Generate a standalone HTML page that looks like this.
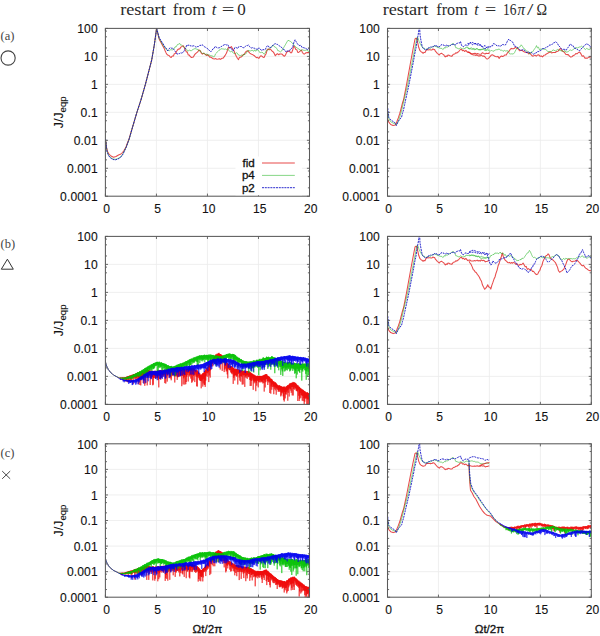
<!DOCTYPE html>
<html><head><meta charset="utf-8"><style>
html,body{margin:0;padding:0;background:#fff;width:600px;height:636px;overflow:hidden;}
svg{display:block;}
</style></head><body>
<svg width="600" height="636" viewBox="0 0 600 636">
<rect width="600" height="636" fill="#fff"/>
<defs>
<clipPath id="cL1"><rect x="105.4" y="27.4" width="204.1" height="168.8"/></clipPath>
<clipPath id="cL2"><rect x="105.4" y="235.4" width="204.1" height="169.0"/></clipPath>
<clipPath id="cL3"><rect x="105.4" y="442.8" width="204.1" height="154.4"/></clipPath>
<clipPath id="cR1"><rect x="387.5" y="27.4" width="203.8" height="168.8"/></clipPath>
<clipPath id="cR2"><rect x="387.5" y="235.4" width="203.8" height="169.0"/></clipPath>
<clipPath id="cR3"><rect x="387.5" y="442.8" width="203.8" height="154.4"/></clipPath>
</defs>
<g stroke="#ebebeb" stroke-width="0.8" fill="none"><line x1="105.4" y1="56.38" x2="309.5" y2="56.38"/><line x1="105.4" y1="84.35" x2="309.5" y2="84.35"/><line x1="105.4" y1="112.32" x2="309.5" y2="112.32"/><line x1="105.4" y1="140.30" x2="309.5" y2="140.30"/><line x1="105.4" y1="168.28" x2="309.5" y2="168.28"/><line x1="156.43" y1="28.4" x2="156.43" y2="196.2"/><line x1="207.45" y1="28.4" x2="207.45" y2="196.2"/><line x1="258.48" y1="28.4" x2="258.48" y2="196.2"/></g>
<g stroke="#ebebeb" stroke-width="0.8" fill="none"><line x1="105.4" y1="264.39" x2="309.5" y2="264.39"/><line x1="105.4" y1="292.38" x2="309.5" y2="292.38"/><line x1="105.4" y1="320.38" x2="309.5" y2="320.38"/><line x1="105.4" y1="348.37" x2="309.5" y2="348.37"/><line x1="105.4" y1="376.36" x2="309.5" y2="376.36"/><line x1="156.43" y1="236.4" x2="156.43" y2="404.4"/><line x1="207.45" y1="236.4" x2="207.45" y2="404.4"/><line x1="258.48" y1="236.4" x2="258.48" y2="404.4"/></g>
<g stroke="#ebebeb" stroke-width="0.8" fill="none"><line x1="105.4" y1="469.38" x2="309.5" y2="469.38"/><line x1="105.4" y1="494.95" x2="309.5" y2="494.95"/><line x1="105.4" y1="520.52" x2="309.5" y2="520.52"/><line x1="105.4" y1="546.10" x2="309.5" y2="546.10"/><line x1="105.4" y1="571.67" x2="309.5" y2="571.67"/><line x1="156.43" y1="443.8" x2="156.43" y2="597.2"/><line x1="207.45" y1="443.8" x2="207.45" y2="597.2"/><line x1="258.48" y1="443.8" x2="258.48" y2="597.2"/></g>
<g stroke="#ebebeb" stroke-width="0.8" fill="none"><line x1="387.5" y1="56.38" x2="591.3" y2="56.38"/><line x1="387.5" y1="84.35" x2="591.3" y2="84.35"/><line x1="387.5" y1="112.32" x2="591.3" y2="112.32"/><line x1="387.5" y1="140.30" x2="591.3" y2="140.30"/><line x1="387.5" y1="168.28" x2="591.3" y2="168.28"/><line x1="438.45" y1="28.4" x2="438.45" y2="196.2"/><line x1="489.40" y1="28.4" x2="489.40" y2="196.2"/><line x1="540.35" y1="28.4" x2="540.35" y2="196.2"/></g>
<g stroke="#ebebeb" stroke-width="0.8" fill="none"><line x1="387.5" y1="264.39" x2="591.3" y2="264.39"/><line x1="387.5" y1="292.38" x2="591.3" y2="292.38"/><line x1="387.5" y1="320.38" x2="591.3" y2="320.38"/><line x1="387.5" y1="348.37" x2="591.3" y2="348.37"/><line x1="387.5" y1="376.36" x2="591.3" y2="376.36"/><line x1="438.45" y1="236.4" x2="438.45" y2="404.4"/><line x1="489.40" y1="236.4" x2="489.40" y2="404.4"/><line x1="540.35" y1="236.4" x2="540.35" y2="404.4"/></g>
<g stroke="#ebebeb" stroke-width="0.8" fill="none"><line x1="387.5" y1="469.38" x2="591.3" y2="469.38"/><line x1="387.5" y1="494.95" x2="591.3" y2="494.95"/><line x1="387.5" y1="520.52" x2="591.3" y2="520.52"/><line x1="387.5" y1="546.10" x2="591.3" y2="546.10"/><line x1="387.5" y1="571.67" x2="591.3" y2="571.67"/><line x1="438.45" y1="443.8" x2="438.45" y2="597.2"/><line x1="489.40" y1="443.8" x2="489.40" y2="597.2"/><line x1="540.35" y1="443.8" x2="540.35" y2="597.2"/></g>
<polyline fill="none" stroke-linejoin="round" stroke="#e01818" stroke-opacity="0.78" stroke-width="1.05" clip-path="url(#cL1)" points="105.6,140.5 106.0,142.5 106.5,147.5 107.5,151.5 109.0,154.0 111.0,156.0 113.5,157.3 116.0,156.5 118.5,155.0 121.0,154.0 122.5,152.5 124.0,150.5 126.0,147.0 127.2,143.5 128.6,140.3 132.0,129.0 136.9,112.3 140.9,100.1 145.4,84.4 151.7,60.0 154.3,45.0 156.5,28.6 159.2,39.2 164.2,48.4 165.1,50.7 166.1,52.9 167.0,54.4 168.1,55.3 169.1,55.5 170.2,57.0 171.2,57.4 172.3,56.0 173.4,56.1 174.3,53.7 175.3,53.6 176.2,52.0 177.4,50.0 178.6,49.0 179.7,48.9 180.9,47.1 182.1,46.4 183.3,45.7 184.3,47.7 185.4,50.0 186.4,52.0 187.3,52.1 188.2,54.9 189.3,55.1 190.4,56.7 191.4,57.5 192.5,57.2 193.4,57.1 194.4,55.1 195.3,53.9 196.5,52.9 197.7,51.9 198.9,49.9 200.0,50.4 201.2,52.8 202.4,54.1 203.5,53.2 204.5,53.9 205.6,54.6 206.7,55.5 207.7,54.6 208.8,55.9 209.8,57.2 210.9,57.1 212.1,58.0 213.3,58.8 214.4,59.0 215.7,58.6 216.9,59.2 218.2,59.0 219.4,58.7 220.6,59.4 221.8,58.3 222.9,58.3 224.1,56.9 225.3,55.1 226.4,53.3 227.5,50.4 228.5,47.2 229.5,47.8 230.4,47.5 231.4,46.6 232.3,48.4 233.3,49.6 234.2,51.2 235.3,54.2 236.3,56.2 237.4,58.2 238.5,59.6 239.5,57.3 240.6,57.3 241.5,56.8 242.5,55.2 243.4,54.6 244.5,54.2 245.5,52.1 246.6,51.2 247.7,50.7 248.7,51.8 249.8,53.1 250.7,53.7 251.7,54.2 252.6,54.6 253.6,55.2 254.5,55.8 255.5,56.9 256.4,57.7 257.3,57.3 258.3,58.1 259.2,58.1 260.2,56.2 261.1,55.8 262.1,56.4 263.0,57.2 264.0,57.5 265.0,55.5 266.1,53.7 267.1,50.2 268.2,48.9 269.3,49.8 270.3,49.0 271.3,50.2 272.2,51.2 273.2,51.9 274.2,53.4 275.3,55.7 276.5,54.3 277.6,53.7 278.8,54.8 279.8,53.9 280.7,54.1 281.7,54.0 282.6,54.7 283.5,55.8 284.5,56.3 285.6,54.9 286.6,52.2 287.6,51.5 288.5,51.2 289.4,51.0 290.5,52.7 291.6,52.8 292.6,50.3 293.7,46.1 294.8,47.2 295.8,49.5 296.8,49.7 297.7,52.3 298.7,52.4 299.6,51.5 300.5,50.8 301.5,50.1 302.4,52.5 303.4,53.7 304.3,54.1 305.3,53.3 306.2,52.7 307.2,52.6 308.4,52.6 309.6,52.6"/>
<polyline fill="none" stroke-linejoin="round" stroke="#10b010" stroke-opacity="0.5" stroke-width="1.0" clip-path="url(#cL1)" points="105.6,139.5 106.3,146.0 107.0,151.2 108.5,155.0 110.5,157.5 113.0,159.0 115.5,159.3 118.0,158.5 120.5,157.0 122.5,154.5 124.5,150.7 126.5,146.3 128.3,141.5 129.5,138.0 132.0,129.0 136.9,112.3 140.9,100.1 145.4,84.4 151.7,60.0 154.3,45.0 156.6,28.5 159.2,38.5 164.2,47.1 165.2,47.3 166.3,49.6 167.4,50.4 168.4,50.4 169.5,50.7 170.5,49.8 171.6,49.8 172.7,49.8 173.8,49.1 175.0,46.9 176.2,46.8 177.4,44.6 178.6,44.2 179.7,43.4 180.7,45.2 181.6,45.1 182.6,45.9 183.5,46.5 184.5,47.8 185.4,48.2 186.5,49.3 187.5,51.1 188.7,50.6 189.9,50.0 191.1,51.1 192.0,50.1 193.0,49.4 193.9,49.1 195.0,48.5 196.0,48.9 197.1,49.3 198.2,49.6 199.2,51.0 200.3,50.7 201.3,52.4 202.4,53.4 203.5,53.4 204.5,53.2 205.6,54.8 206.7,53.9 207.7,55.3 208.8,55.0 209.8,55.2 210.9,55.9 211.9,55.8 212.8,56.1 213.7,57.2 214.7,55.9 215.6,53.8 216.6,52.9 217.8,51.4 218.9,50.3 220.1,49.8 221.1,48.5 222.0,49.3 222.9,48.7 224.1,49.4 225.3,48.9 226.4,49.7 227.1,48.9 227.8,48.8 228.8,50.6 229.7,51.2 230.7,51.8 231.6,51.0 232.6,52.5 233.5,53.1 234.4,53.4 235.4,53.6 236.3,52.7 237.3,53.2 238.2,54.8 239.2,55.2 240.3,55.7 241.5,55.1 242.7,56.2 243.9,53.9 245.1,54.4 246.2,53.3 247.2,51.6 248.1,50.4 249.1,50.6 250.0,51.1 251.0,50.7 251.9,50.4 252.9,50.6 253.8,51.3 254.7,49.8 255.7,51.3 256.6,50.0 257.6,50.0 258.5,50.3 259.5,52.3 260.4,52.6 261.6,52.3 262.8,52.6 264.0,54.3 265.1,53.3 266.3,50.3 267.5,50.0 268.4,49.7 269.4,48.3 270.3,47.8 271.3,47.5 272.2,45.8 273.2,45.1 274.1,46.5 275.0,47.0 276.0,47.7 276.9,48.5 277.9,50.8 278.8,50.8 279.8,51.5 280.7,51.9 281.7,51.0 282.6,49.0 283.5,47.9 284.5,46.2 285.7,44.2 286.9,42.0 288.0,40.3 289.2,40.8 290.4,41.4 291.6,42.3 292.5,43.5 293.5,44.7 294.4,45.3 295.3,46.8 296.3,47.5 297.2,47.7 298.2,48.9 299.1,49.0 300.1,50.1 301.1,50.4 302.2,49.7 303.3,50.2 304.3,50.4 305.4,50.3 306.4,50.0 307.5,50.1 308.5,51.9 309.6,51.2"/>
<polyline fill="none" stroke-linejoin="round" stroke="#1515c8" stroke-opacity="0.9" stroke-width="1.0" stroke-dasharray="2 0.8" clip-path="url(#cL1)" points="105.6,139.0 106.3,146.0 107.0,151.5 108.5,155.5 110.5,158.0 113.0,159.5 115.5,159.8 118.0,159.0 120.5,157.5 122.5,155.0 124.5,151.0 126.5,146.5 128.3,141.5 129.5,138.0 132.0,129.0 136.9,112.3 140.9,100.1 145.4,84.4 151.7,60.0 154.3,45.0 156.7,28.4 159.2,37.7 164.2,45.6 165.3,47.9 166.5,48.5 167.7,50.9 168.6,49.7 169.6,48.2 170.5,47.6 171.7,48.3 172.9,48.2 174.1,49.8 175.0,51.2 176.0,52.2 176.9,54.0 177.9,54.0 178.8,53.6 179.7,53.5 180.8,52.7 181.9,53.2 182.9,52.3 184.0,51.4 184.9,49.2 185.9,47.4 186.8,45.0 187.9,45.6 189.0,44.9 190.0,45.8 191.1,45.8 192.1,46.2 193.2,45.8 194.3,45.9 195.3,46.7 196.3,47.1 197.2,46.5 198.2,46.7 199.1,45.7 200.0,45.1 201.0,45.6 202.1,44.8 203.1,45.4 204.2,46.6 205.2,47.2 206.2,47.5 207.1,48.5 208.1,49.0 209.0,50.1 210.0,51.2 210.9,51.8 212.0,50.3 213.0,48.8 214.1,48.5 215.2,46.4 216.2,47.1 217.3,47.9 218.3,47.9 219.4,47.7 220.6,47.3 221.8,46.0 222.9,45.6 224.1,44.8 225.3,44.4 226.4,45.0 227.1,44.5 227.8,44.6 228.8,46.8 229.7,48.0 230.7,47.8 231.7,48.7 232.8,51.1 233.9,49.8 234.9,47.5 235.9,47.2 236.8,48.0 237.7,48.5 238.7,46.7 239.6,46.6 240.6,46.5 241.5,46.5 242.5,47.5 243.4,47.7 244.4,47.6 245.3,46.5 246.2,45.5 247.3,45.7 248.4,44.9 249.4,46.3 250.5,47.7 251.4,48.0 252.4,47.6 253.3,48.1 254.3,48.2 255.2,48.6 256.2,49.2 257.1,49.0 258.1,49.3 259.0,47.8 259.9,48.8 260.9,49.9 261.8,50.4 263.0,49.5 264.2,49.9 265.4,49.3 266.4,47.2 267.5,45.5 268.4,46.1 269.4,47.7 270.3,47.5 271.3,47.1 272.2,46.1 273.2,44.9 274.2,44.2 275.3,43.6 276.3,44.3 277.4,44.3 278.6,45.6 279.8,46.1 280.9,47.0 282.0,47.7 283.1,49.2 284.0,49.6 285.0,50.2 285.9,51.8 286.9,50.6 287.8,51.2 288.7,50.9 289.7,50.7 290.6,48.8 291.6,48.5 292.8,46.8 293.9,42.3 295.1,39.8 296.2,41.8 297.2,43.4 298.2,44.8 299.1,45.6 300.1,45.3 301.1,45.6 302.2,47.7 303.3,47.6 304.3,47.9 305.3,48.2 306.2,48.4 307.2,49.9 308.4,48.7 309.6,48.4"/>
<polyline fill="none" stroke-linejoin="round" stroke="#e01818" stroke-opacity="0.78" stroke-width="1.05" clip-path="url(#cR1)" points="387.7,118.9 388.8,122.2 390.7,124.5 393.1,125.5 395.4,125.0 396.8,121.7 398.3,117.9 399.7,113.7 401.1,108.5 402.5,102.8 403.5,100.0 406.6,84.4 411.0,60.0 413.0,49.3 415.0,39.0 416.0,38.3 417.0,38.7 417.7,42.7 418.7,47.3 420.0,50.7 421.3,51.9 422.2,52.3 423.1,53.3 424.0,52.4 425.0,52.6 426.0,50.6 427.0,49.6 428.0,49.9 429.0,49.8 430.0,49.8 431.0,50.0 432.0,49.9 433.0,48.9 434.0,49.6 434.6,49.5 435.3,51.1 436.3,52.1 437.3,53.3 438.3,54.2 439.3,55.0 440.0,54.0 440.7,53.6 441.7,53.3 442.7,54.1 443.6,54.6 444.4,55.8 445.3,56.9 446.2,55.9 447.1,56.5 448.0,55.0 449.0,55.2 450.0,55.9 451.0,56.1 452.0,56.1 453.3,54.2 454.6,54.1 455.8,52.8 456.8,53.1 457.7,52.2 458.6,51.8 459.6,50.5 460.5,49.5 461.5,49.2 462.4,50.7 463.4,50.1 464.6,51.5 465.9,50.4 467.1,51.8 468.1,52.6 469.0,52.5 470.0,52.7 471.1,54.1 472.3,54.6 473.5,55.0 474.7,54.9 475.9,55.5 477.0,54.8 478.2,55.9 479.4,55.8 480.0,56.0 481.3,55.1 482.6,56.2 483.8,55.9 485.1,57.0 486.4,58.8 487.7,59.0 488.9,57.8 490.2,56.4 491.5,54.9 492.8,54.8 494.1,55.8 495.3,56.5 496.6,56.7 497.9,56.4 499.2,58.4 500.3,56.7 501.5,56.0 502.6,56.5 503.8,56.0 504.9,54.9 506.2,55.1 507.5,52.7 508.8,51.6 510.0,49.7 511.3,48.4 512.6,48.8 513.5,48.8 514.5,48.2 515.5,47.2 516.4,48.0 517.4,48.6 518.3,49.0 519.5,50.8 520.6,50.6 521.8,50.2 522.9,51.0 524.1,51.8 525.2,52.3 526.4,52.6 527.5,52.3 528.7,53.9 529.8,53.0 531.1,54.6 532.4,56.1 533.7,55.9 534.9,55.1 536.2,56.2 537.5,55.1 538.8,54.8 540.1,56.3 541.3,55.9 542.6,56.9 543.9,55.2 545.2,55.0 546.4,53.9 547.7,53.3 549.0,52.5 550.3,51.7 551.6,53.0 552.8,52.6 554.1,52.4 555.4,52.5 556.7,51.4 558.0,51.3 559.2,49.6 560.5,48.3 561.8,50.5 563.1,51.5 564.3,52.0 565.6,54.2 566.9,54.6 568.2,54.6 569.5,56.2 570.7,57.1 572.0,56.7 573.3,55.5 574.6,55.0 575.8,53.6 577.1,53.8 578.4,52.5 579.7,52.1 581.0,53.9 582.2,56.2 583.5,55.8 584.8,58.1 586.1,58.1 587.3,58.3 588.6,57.2 589.9,57.2 591.2,56.6"/>
<polyline fill="none" stroke-linejoin="round" stroke="#10b010" stroke-opacity="0.5" stroke-width="1.0" clip-path="url(#cR1)" points="387.7,112.0 388.8,118.5 390.7,121.7 393.1,123.1 395.4,124.1 396.4,124.6 398.5,121.0 400.2,115.6 402.0,109.0 404.0,100.0 407.8,84.4 412.6,60.0 414.5,50.0 416.5,40.0 417.3,37.0 418.2,38.5 419.0,41.3 420.7,44.7 422.3,47.2 423.1,48.2 424.0,48.1 424.9,48.6 425.8,49.5 426.7,49.3 427.6,48.6 428.4,48.8 429.3,47.9 430.4,48.3 431.6,47.5 432.7,46.4 433.7,46.6 434.7,46.0 435.6,46.5 436.4,46.4 437.3,47.7 438.2,47.2 439.1,47.9 440.0,48.2 440.9,48.4 441.8,48.3 442.7,49.5 443.6,49.0 444.4,47.5 445.3,48.1 446.2,46.8 447.1,47.4 448.0,46.5 449.2,45.8 450.5,45.3 451.7,44.4 453.0,43.3 453.9,44.1 454.9,45.3 455.8,47.8 456.9,47.9 458.1,48.7 459.2,48.9 460.3,47.8 461.5,48.4 462.6,48.8 463.7,48.1 464.9,48.9 466.0,47.0 467.1,47.5 468.3,48.4 469.4,48.8 470.5,48.2 471.7,47.9 472.8,48.7 473.9,48.4 475.1,49.3 476.2,48.9 477.3,48.8 478.5,49.7 479.2,50.0 480.0,49.5 480.0,50.1 481.3,49.7 482.6,49.3 483.8,48.1 485.1,49.1 486.4,50.3 487.7,49.9 488.9,50.7 490.2,51.4 491.5,50.0 492.8,51.3 494.1,50.9 495.3,50.0 496.6,49.7 497.9,49.6 499.2,48.9 500.4,50.3 501.7,50.0 503.0,51.4 504.3,50.4 505.6,51.0 506.8,50.8 508.1,50.9 509.4,53.7 510.7,54.0 511.9,53.8 513.2,54.1 514.5,52.7 515.8,50.0 517.1,48.1 518.3,47.9 519.3,47.1 520.3,46.6 521.2,44.8 522.5,46.4 523.8,48.7 525.0,49.1 526.2,51.1 527.4,51.2 528.6,52.2 529.8,54.2 531.1,52.0 532.4,52.1 533.7,50.2 534.6,48.8 535.6,47.6 536.5,45.6 537.5,47.9 538.5,47.2 539.4,49.7 540.7,49.0 542.0,49.1 543.3,49.0 544.4,49.3 545.6,49.5 546.7,50.4 547.9,51.5 549.0,51.5 550.3,52.0 551.6,51.5 552.8,50.0 554.0,50.0 555.1,51.1 556.3,50.4 557.4,49.5 558.6,50.0 559.9,50.3 561.1,50.9 562.4,50.8 563.6,51.8 564.7,50.4 565.9,52.1 567.0,52.0 568.2,51.6 569.3,50.5 570.5,50.0 571.6,50.5 572.8,49.8 573.9,49.0 575.2,47.9 576.5,47.6 577.8,48.0 579.0,47.0 580.3,47.0 581.6,46.2 582.9,47.2 584.1,48.4 585.4,49.5 586.7,48.4 588.0,49.2 589.3,49.6 590.2,48.9 591.2,49.0"/>
<polyline fill="none" stroke-linejoin="round" stroke="#1515c8" stroke-opacity="0.9" stroke-width="1.0" stroke-dasharray="2 0.8" clip-path="url(#cR1)" points="387.7,108.0 388.8,117.5 390.7,119.8 393.1,121.5 395.4,123.1 396.4,125.5 398.3,121.2 400.2,118.9 401.6,117.0 402.5,113.2 403.5,109.9 404.4,105.7 405.3,101.4 409.0,84.4 413.7,60.0 414.5,55.0 416.0,48.0 417.3,39.3 418.3,34.0 419.0,29.3 419.7,28.4 420.0,34.7 421.0,40.7 422.0,45.8 422.6,47.3 423.3,48.5 424.0,48.5 424.7,49.6 425.7,50.1 426.7,49.2 427.7,49.4 428.7,47.5 429.7,47.9 430.7,46.8 431.7,47.0 432.7,46.9 433.7,46.5 434.7,45.0 435.4,46.2 436.0,45.7 436.9,45.8 437.7,46.9 438.9,46.9 440.0,46.4 441.0,44.8 442.0,44.8 443.0,44.9 444.0,45.2 445.0,46.3 446.0,45.6 447.0,44.8 448.0,46.0 449.2,45.9 450.4,45.6 451.6,44.2 452.7,44.5 453.9,44.2 455.2,45.2 456.4,43.5 457.7,43.2 458.6,42.7 459.6,43.1 460.5,41.4 461.5,45.2 462.4,46.4 463.6,46.5 464.8,45.2 466.0,44.9 467.1,45.5 468.4,45.1 469.6,43.1 470.9,42.7 472.2,42.4 473.4,43.0 474.7,43.7 475.9,43.9 477.2,44.0 478.5,43.6 479.2,43.5 480.0,44.5 480.0,44.9 481.3,45.2 482.6,46.6 483.8,46.2 485.1,45.5 486.4,47.5 487.7,47.9 488.9,46.5 490.2,47.3 491.5,45.4 492.5,45.9 493.4,43.6 494.4,43.9 495.7,44.5 496.9,46.0 498.2,45.7 499.5,46.0 500.8,46.2 502.0,44.5 503.3,44.6 504.6,45.2 505.9,44.5 506.8,42.4 507.8,40.4 508.8,39.1 509.7,40.3 510.7,40.6 511.6,41.5 512.6,42.0 513.5,43.8 514.5,46.2 515.8,46.4 517.1,47.1 518.3,48.2 519.6,49.6 520.9,50.4 522.2,49.9 523.4,49.7 524.7,50.6 526.0,52.2 527.3,52.7 528.6,51.9 529.8,52.7 531.1,52.3 532.4,53.5 533.7,54.2 534.9,53.1 536.2,53.0 537.5,51.4 538.8,51.5 540.1,50.5 541.3,50.1 542.6,48.5 543.9,48.6 545.2,48.2 546.4,46.9 547.7,46.8 549.0,45.2 550.3,45.0 551.6,45.0 552.8,43.5 553.8,42.6 554.8,42.6 555.7,41.6 556.7,42.6 557.6,43.6 558.6,45.8 559.9,46.8 561.1,48.3 562.4,49.7 563.7,49.3 565.0,49.4 566.3,50.1 567.5,48.1 568.8,46.6 570.1,44.1 571.0,44.6 572.0,45.5 573.0,45.6 573.9,47.9 574.9,48.2 575.8,48.6 577.1,49.3 578.4,50.2 579.7,50.7 581.0,49.0 582.2,48.0 583.5,46.6 584.5,45.2 585.4,44.7 586.4,44.1 587.3,43.7 588.3,45.0 589.3,45.2 590.2,46.6 591.2,47.0"/>
<polyline fill="none" stroke-linejoin="round" stroke="#e01818" stroke-opacity="0.78" stroke-width="1.05" clip-path="url(#cR1)" points="467.5,51.6 468.8,52.0 470.0,53.0 471.2,53.4 472.5,53.8 473.8,53.5 475.0,53.3 476.2,54.0 477.5,53.6 478.8,54.0 480.0,54.2 481.2,54.0 482.5,52.7 483.8,53.4 485.0,54.0 486.2,53.3 487.5,53.6 488.5,53.5 489.6,52.5"/>
<polyline fill="none" stroke-linejoin="round" stroke="#10b010" stroke-opacity="0.5" stroke-width="1.0" clip-path="url(#cR1)" points="467.5,46.7 468.8,48.8 470.0,48.7 471.2,49.1 472.5,49.4 473.8,49.4 475.0,49.9 476.2,48.7 477.5,49.0 478.8,49.7 480.0,49.5 481.2,49.3 482.5,49.3 483.8,49.3 485.0,50.9 486.2,50.1 487.5,48.8 488.5,49.0 489.6,50.0"/>
<polyline fill="none" stroke-linejoin="round" stroke="#1515c8" stroke-opacity="0.9" stroke-width="1.0" stroke-dasharray="2 0.8" clip-path="url(#cR1)" points="467.5,43.4 468.8,43.6 470.0,42.4 471.2,43.2 472.5,44.8 473.8,43.9 475.0,43.6 476.2,43.4 477.5,45.3 478.8,45.1 480.0,45.0 481.2,46.3 482.5,46.9 483.8,48.3 485.0,49.2 486.2,47.6 487.5,46.9 488.5,47.1 489.6,46.7"/>
<polyline fill="none" stroke-linejoin="round" stroke="#e01818" stroke-opacity="0.78" stroke-width="1.05" clip-path="url(#cR2)" points="387.7,327.0 388.8,330.3 390.7,332.6 393.1,333.6 395.4,333.1 396.8,329.8 398.3,326.0 399.7,321.8 401.1,316.5 402.5,310.8 403.5,308.0 406.6,292.4 411.0,268.0 413.0,257.3 415.0,247.0 416.0,246.3 417.0,246.7 417.7,250.7 418.7,255.3 420.0,258.7 421.3,259.9 422.2,260.3 423.1,261.3 424.0,260.4 425.0,260.7 426.0,258.6 427.0,257.6 428.0,257.9 429.0,257.8 430.0,257.8 431.0,258.0 432.0,257.9 433.0,257.0 434.0,257.6 434.6,257.5 435.3,259.1 436.3,260.1 437.3,261.3 438.3,262.2 439.3,263.0 440.0,262.0 440.7,261.6 441.7,261.3 442.7,262.1 443.6,262.6 444.4,263.8 445.3,265.0 446.2,263.9 447.1,264.5 448.0,263.0 449.0,263.2 450.0,264.0 451.0,264.1 452.0,264.1 453.3,262.2 454.6,262.1 455.8,260.8 456.8,261.1 457.7,260.2 458.6,259.8 459.6,258.5 460.5,257.5 461.5,257.2 462.4,258.7 463.4,258.1 464.6,259.5 465.9,258.4 467.1,259.8 467.5,260.6 468.6,260.2 469.8,259.9 470.9,260.9 472.1,261.0 473.4,261.0 474.6,260.5 475.9,260.9 477.2,260.1 478.2,261.0 479.2,260.5 480.2,261.1 481.2,259.9 482.3,260.7 483.3,260.2 484.3,260.7 485.3,261.9 486.3,261.4 487.4,261.2 488.4,260.6 489.4,260.8"/>
<polyline fill="none" stroke-linejoin="round" stroke="#10b010" stroke-opacity="0.5" stroke-width="1.0" clip-path="url(#cR2)" points="387.7,320.0 388.8,326.6 390.7,329.8 393.1,331.2 395.4,332.2 396.4,332.7 398.5,329.1 400.2,323.7 402.0,317.0 404.0,308.0 407.8,292.4 412.6,268.0 414.5,258.0 416.5,248.0 417.3,245.0 418.2,246.5 419.0,249.3 420.7,252.7 422.3,255.2 423.1,256.2 424.0,256.1 424.9,256.6 425.8,257.5 426.7,257.4 427.6,256.6 428.4,256.8 429.3,255.9 430.4,256.3 431.6,255.5 432.7,254.4 433.7,254.6 434.7,254.0 435.6,254.5 436.4,254.4 437.3,255.7 438.2,255.2 439.1,255.9 440.0,256.2 440.9,256.4 441.8,256.3 442.7,257.5 443.6,257.0 444.4,255.5 445.3,256.1 446.2,254.8 447.1,255.4 448.0,254.5 449.2,253.8 450.5,253.3 451.7,252.4 453.0,251.3 453.9,252.1 454.9,253.3 455.8,255.8 456.9,255.9 458.1,256.7 459.2,256.9 460.3,255.8 461.5,256.4 462.6,256.8 463.7,256.1 464.9,256.9 466.0,255.0 467.1,255.5 468.3,255.5 469.5,255.8 470.8,255.2 472.1,254.9 473.3,255.7 474.6,255.6 475.8,256.6 477.1,256.3 478.3,256.4 479.6,257.5 480.8,258.3 482.1,258.3 483.4,258.2 484.6,258.0 485.9,257.6 487.0,256.9 488.2,257.8 489.4,258.3"/>
<polyline fill="none" stroke-linejoin="round" stroke="#1515c8" stroke-opacity="0.9" stroke-width="1.0" stroke-dasharray="2 0.8" clip-path="url(#cR2)" points="387.7,316.0 388.8,325.6 390.7,327.9 393.1,329.6 395.4,331.2 396.4,333.6 398.3,329.3 400.2,327.0 401.6,325.1 402.5,321.3 403.5,317.9 404.4,313.7 405.3,309.4 409.0,292.4 413.7,268.0 414.5,263.0 416.0,256.0 417.3,247.3 418.3,242.0 419.0,237.3 419.7,236.4 420.0,242.7 421.0,248.7 422.0,253.8 422.6,255.3 423.3,256.5 424.0,256.5 424.7,257.6 425.7,258.2 426.7,257.2 427.7,257.4 428.7,255.5 429.7,255.9 430.7,254.8 431.7,255.0 432.7,254.9 433.7,254.5 434.7,253.1 435.4,254.2 436.0,253.7 436.9,253.8 437.7,254.9 438.9,254.9 440.0,254.4 441.0,252.8 442.0,252.9 443.0,252.9 444.0,253.3 445.0,254.3 446.0,253.6 447.0,252.8 448.0,254.0 449.2,253.9 450.4,253.6 451.6,252.2 452.7,252.5 453.9,252.2 455.2,253.3 456.4,251.5 457.7,251.2 458.6,250.7 459.6,251.1 460.5,249.4 461.5,253.2 462.4,254.4 463.6,254.5 464.8,253.2 466.0,252.9 467.1,253.5 468.3,253.7 469.5,251.6 470.8,251.1 472.1,250.4 473.3,250.4 474.6,250.5 475.8,251.2 477.1,251.8 478.3,251.8 479.6,251.7 480.8,252.7 482.1,252.5 483.4,253.0 484.6,254.6 485.9,254.3 487.0,253.1 488.2,254.5 489.4,253.5"/>
<polyline fill="none" stroke-linejoin="round" stroke="#e01818" stroke-opacity="0.78" stroke-width="1.05" clip-path="url(#cR2)" points="469.0,261.3 470.0,263.0 471.0,264.2 472.1,266.6 473.1,269.3 474.2,270.4 475.2,272.0 476.2,272.5 477.3,274.3 478.3,275.5 479.4,277.2 480.4,279.5 481.5,281.3 482.5,285.1 483.5,286.9 484.6,289.3 485.6,288.4 486.7,286.9 487.7,284.8 488.8,286.9 489.8,287.3 490.8,289.1 491.9,285.1 492.9,282.4 494.0,279.1 495.0,277.0 496.0,273.2 497.1,270.1 498.1,265.8 499.2,263.3 500.2,259.5 501.2,257.0 502.3,253.0 503.3,256.5 504.4,258.9 505.4,260.5 506.5,261.1 507.5,262.4 508.5,262.8 509.6,262.4 510.6,263.3 511.7,262.5 512.7,263.2 513.8,262.4 514.8,263.1 515.8,264.3 516.9,263.6 517.9,264.9 519.0,265.3 520.0,264.3 521.0,264.7 522.1,264.1 523.1,263.1 524.2,265.0 525.2,266.7 526.2,266.4 527.3,269.4 528.3,268.6 529.4,269.4 530.4,269.5 531.5,269.7 532.5,271.4 533.5,271.2 534.6,272.8 535.6,274.1 536.7,274.6 537.7,274.1 538.8,271.7 539.8,270.5 540.8,267.4 541.9,265.5 542.9,261.6 544.0,259.2 545.0,257.6 546.0,255.7 547.1,255.2 548.1,253.9 549.2,255.2 550.2,257.9 551.2,258.9 552.3,259.6 553.3,260.3 554.4,261.5 555.4,262.6 556.5,264.9 557.5,267.1 558.5,270.8 559.6,272.3 560.6,271.6 561.7,270.9 562.7,270.2 563.8,269.2 564.8,266.9 565.8,264.4 566.9,261.3 567.9,259.1 569.0,259.2 570.0,260.1 571.0,261.1 572.1,261.9 573.1,261.3 574.2,261.2 575.2,261.0 576.2,260.3 577.3,260.5 578.3,261.3 579.4,262.7 580.4,263.7 581.5,265.3 582.5,265.9 583.5,265.3 584.6,266.9 585.6,268.1 586.7,268.7 587.7,269.6 588.8,270.2 590.0,270.8 591.2,270.5"/>
<polyline fill="none" stroke-linejoin="round" stroke="#10b010" stroke-opacity="0.5" stroke-width="1.0" clip-path="url(#cR2)" points="469.0,254.7 470.2,255.6 471.4,255.3 472.6,255.4 473.8,255.1 475.0,256.1 476.2,255.5 477.5,257.0 478.8,255.9 480.0,257.4 481.2,256.1 482.5,256.9 483.8,257.3 485.0,258.2 486.2,258.2 487.5,257.5 488.8,258.3 489.8,257.6 490.8,255.4 491.9,255.5 492.9,254.4 494.0,254.5 495.0,252.8 496.0,253.5 497.1,252.8 498.1,253.7 499.2,253.3 500.2,252.0 501.2,253.6 502.3,253.4 503.3,253.2 504.4,255.2 505.4,254.6 506.5,256.8 507.5,256.1 508.5,255.1 509.6,256.5 510.6,255.6 511.7,256.0 512.7,256.9 513.8,257.6 514.8,259.0 515.8,259.2 516.9,260.9 517.9,260.4 519.0,260.5 520.0,259.4 521.0,259.9 522.1,258.0 523.1,258.7 524.2,257.5 525.2,255.9 526.2,254.6 527.3,252.9 528.3,252.7 529.4,250.4 530.4,251.8 531.5,254.4 532.5,256.6 533.5,257.6 534.6,257.3 535.6,257.8 536.7,259.0 537.7,257.9 538.8,258.2 539.8,257.0 540.8,256.6 541.9,257.5 542.9,257.8 544.0,257.2 545.0,256.6 546.0,258.1 547.1,257.7 548.1,257.9 549.2,257.9 550.2,258.4 551.2,257.2 552.3,256.6 553.3,256.7 554.4,256.1 555.4,255.4 556.5,254.8 557.5,255.3 558.5,255.5 559.6,257.7 560.6,258.3 561.7,259.7 562.7,259.4 563.8,258.3 564.8,259.6 565.8,258.2 566.9,258.7 567.9,259.2 569.0,258.4 570.0,258.8 571.0,258.3 572.1,259.1 573.1,258.6 574.2,258.8 575.2,258.8 576.2,258.0 577.3,257.3 578.3,257.5 579.4,256.5 580.4,257.3 581.5,256.2 582.5,255.8 583.5,257.3 584.6,257.1 585.6,257.3 586.7,258.2 587.8,257.8 589.0,256.7 590.1,256.8 591.2,257.0"/>
<polyline fill="none" stroke-linejoin="round" stroke="#1515c8" stroke-opacity="0.9" stroke-width="1.0" stroke-dasharray="2 0.8" clip-path="url(#cR2)" points="469.0,252.6 470.0,252.1 471.0,252.3 472.1,252.4 473.1,252.1 474.2,252.0 475.2,252.6 476.2,252.8 477.3,253.3 478.3,252.5 479.4,253.9 480.4,252.7 481.5,253.9 482.5,253.0 483.5,253.1 484.6,252.7 485.6,254.0 486.7,253.2 487.7,256.1 488.8,259.7 489.8,263.0 490.8,265.1 491.9,263.9 492.9,260.8 494.0,262.2 495.0,263.1 496.0,263.0 497.1,262.5 498.1,261.6 499.2,259.4 500.2,260.2 501.2,258.9 502.3,258.7 503.3,258.1 504.4,257.7 505.4,258.3 506.5,256.9 507.5,256.9 508.5,254.8 509.6,254.2 510.6,253.0 511.7,255.6 512.7,258.2 513.8,259.1 514.8,261.6 515.8,262.6 516.9,264.5 517.9,265.6 519.0,267.7 520.0,268.0 521.0,269.2 522.1,269.2 523.1,268.5 524.2,268.7 525.2,269.7 526.2,269.9 527.3,271.6 528.3,272.7 529.4,270.8 530.4,270.7 531.5,267.7 532.5,267.5 533.5,264.2 534.6,264.1 535.6,261.4 536.7,259.2 537.7,258.3 538.8,257.9 539.8,256.8 540.8,256.4 541.9,256.3 542.9,256.2 544.0,257.0 545.0,258.4 546.0,259.4 547.1,261.4 548.1,262.1 549.2,261.8 550.2,260.7 551.2,259.4 552.3,258.8 553.3,257.9 554.4,256.4 555.4,255.5 556.5,254.2 557.5,255.3 558.5,255.5 559.6,257.7 560.6,259.5 561.7,260.2 562.7,262.9 563.8,264.8 564.8,267.0 565.8,269.2 566.9,273.0 567.9,271.9 569.0,270.8 570.0,269.4 571.0,267.4 572.1,265.8 573.1,265.5 574.2,264.2 575.2,263.4 576.2,261.7 577.3,259.2 578.3,257.9 579.4,254.0 580.4,254.0 581.5,251.5 582.5,249.6 583.5,252.3 584.6,254.3 585.6,257.0 586.7,257.0 587.7,256.0 588.8,255.7 590.0,257.0 591.2,259.1"/>
<polyline fill="none" stroke-linejoin="round" stroke="#e01818" stroke-opacity="0.78" stroke-width="1.05" clip-path="url(#cR3)" points="387.7,526.5 388.8,529.6 390.7,531.7 393.1,532.6 395.4,532.1 396.8,529.1 398.3,525.6 399.7,521.8 401.1,517.0 402.5,511.8 403.5,509.3 406.6,495.0 411.0,472.7 413.0,462.9 415.0,453.5 416.0,452.9 417.0,453.2 417.7,456.9 418.7,461.1 420.0,464.2 421.3,465.5 422.2,465.8 423.1,466.4 424.0,465.9 425.0,465.8 426.0,464.2 427.0,463.4 428.0,463.5 429.0,463.5 430.0,463.6 431.0,463.6 432.0,463.5 433.0,462.7 434.0,463.1 434.6,463.2 435.3,464.4 436.3,465.5 437.3,466.7 438.3,467.4 439.3,468.1 440.0,467.2 440.7,466.7 441.7,466.7 442.7,467.4 443.6,467.9 444.4,468.8 445.3,469.7 446.2,469.0 447.1,469.3 448.0,468.3 449.0,468.4 450.0,468.9 451.0,469.0 452.0,469.0 453.3,467.5 454.6,467.3 455.8,466.3 456.8,466.3 457.7,465.5 458.6,465.1 459.6,463.9 460.5,462.8 461.5,462.8 462.4,464.0 463.4,463.7 464.6,464.7 465.9,464.1 467.1,465.1 467.5,465.8 468.6,465.5 469.8,465.4 470.9,466.1 472.1,466.2 473.4,466.2 474.6,465.9 475.9,466.2 477.2,465.7 478.2,466.3 479.2,465.9 480.2,466.3 481.2,465.5 482.3,466.1 483.3,465.7 484.3,466.1 485.3,466.9 486.3,466.6 487.4,466.4 488.4,466.0 489.4,466.1"/>
<polyline fill="none" stroke-linejoin="round" stroke="#10b010" stroke-opacity="0.5" stroke-width="1.0" clip-path="url(#cR3)" points="387.7,520.2 388.8,526.2 390.7,529.1 393.1,530.4 395.4,531.3 396.4,531.7 398.5,528.5 400.2,523.5 402.0,517.5 404.0,509.3 407.8,495.0 412.6,472.7 414.5,463.5 416.5,454.4 417.3,451.7 418.2,453.0 419.0,455.6 420.7,458.7 422.3,461.2 423.1,462.0 424.0,462.0 424.9,462.4 425.8,462.9 426.7,462.9 427.6,462.3 428.4,462.3 429.3,461.7 430.4,461.9 431.6,461.2 432.7,460.4 433.7,460.4 434.7,459.9 435.6,460.3 436.4,460.3 437.3,461.3 438.2,461.1 439.1,461.7 440.0,462.0 440.9,462.2 441.8,462.2 442.7,462.9 443.6,462.5 444.4,461.5 445.3,461.8 446.2,460.8 447.1,461.1 448.0,460.4 449.2,459.7 450.5,459.1 451.7,458.3 453.0,457.3 453.9,458.3 454.9,459.5 455.8,461.5 456.9,461.6 458.1,462.2 459.2,462.4 460.3,461.7 461.5,462.1 462.6,462.3 463.7,461.8 464.9,462.3 466.0,461.0 467.1,461.3 468.3,461.1 469.5,461.3 470.8,461.0 472.1,460.8 473.3,461.4 474.6,461.4 475.8,462.1 477.1,462.0 478.3,462.2 479.6,463.1 480.8,463.7 482.1,463.8 483.4,463.7 484.6,463.5 485.9,463.2 487.0,462.8 488.2,463.4 489.4,463.8"/>
<polyline fill="none" stroke-linejoin="round" stroke="#1515c8" stroke-opacity="0.9" stroke-width="1.0" stroke-dasharray="2 0.8" clip-path="url(#cR3)" points="387.7,516.6 388.8,525.3 390.7,527.4 393.1,528.9 395.4,530.4 396.4,532.6 398.3,528.6 400.2,526.5 401.6,524.8 402.5,521.3 403.5,518.3 404.4,514.5 405.3,510.5 409.0,495.0 413.7,472.7 414.5,468.1 416.0,461.7 417.3,453.8 418.3,448.9 419.0,444.6 419.7,443.8 420.0,449.6 421.0,455.0 422.0,459.6 422.6,461.0 423.3,462.2 424.0,462.3 424.7,463.1 425.7,463.5 426.7,462.8 427.7,462.9 428.7,461.4 429.7,461.6 430.7,460.7 431.7,460.8 432.7,460.7 433.7,460.2 434.7,459.0 435.4,459.9 436.0,459.7 436.9,459.9 437.7,460.8 438.9,460.6 440.0,460.1 441.0,459.0 442.0,458.9 443.0,459.0 444.0,459.2 445.0,460.0 446.0,459.6 447.0,459.0 448.0,459.7 449.2,459.6 450.4,459.4 451.6,458.4 452.7,458.6 453.9,458.4 455.2,459.0 456.4,457.8 457.7,457.5 458.6,457.0 459.6,457.1 460.5,455.9 461.5,459.0 462.4,460.3 463.6,460.3 464.8,459.3 466.0,459.0 467.1,459.2 468.3,459.4 469.5,457.8 470.8,457.3 472.1,456.8 473.3,456.7 474.6,456.7 475.8,457.3 477.1,457.8 478.3,458.0 479.6,457.9 480.8,458.6 482.1,458.6 483.4,459.0 484.6,460.2 485.9,460.1 487.0,459.2 488.2,460.2 489.4,459.4"/>
<polyline fill="none" stroke-linejoin="round" stroke="#e01818" stroke-opacity="0.78" stroke-width="1.05" clip-path="url(#cR3)" points="479.6,465.7 482.1,464.4 485.9,463.2 489.4,462.5"/>
<polyline fill="none" stroke-linejoin="round" stroke="#e01818" stroke-opacity="0.78" stroke-width="1.05" clip-path="url(#cR3)" points="468.9,463.8 469.3,473.8 469.8,482.6 470.5,490.2 472.1,492.7 473.9,496.5 475.8,499.0 477.7,502.7 479.6,506.5 482.1,510.3 484.6,513.4 487.1,515.3 490.3,515.9 492.8,518.4 495.9,521.6 499.7,524.1 502.6,525.6"/>
<polyline fill="none" stroke-linejoin="round" stroke="#10b010" stroke-opacity="0.5" stroke-width="1.0" clip-path="url(#cR3)" points="468.9,461.3 469.5,473.8 470.2,482.6 471.4,487.7 473.9,492.1 476.4,495.2 479.6,500.2 483.4,505.3 487.1,510.3 490.9,514.0 494.7,519.1 499.7,524.7 502.6,526.2"/>
<polyline fill="none" stroke-linejoin="round" stroke="#1515c8" stroke-opacity="0.9" stroke-width="1.0" stroke-dasharray="2 0.8" clip-path="url(#cR3)" points="468.9,460.0 469.3,467.6 469.8,475.1 470.8,483.9 472.7,488.9 474.6,492.1 477.1,495.2 479.6,499.0 482.1,502.7 484.6,506.5 487.1,509.6 490.3,512.8 493.4,517.8 497.2,521.6 500.9,524.1 502.6,525.0"/>
<polyline fill="none" stroke="#f00000" stroke-width="0.58" clip-path="url(#cR3)" points="499.8,524.2 500.1,524.3 500.4,524.7 500.7,524.6 501.0,525.3 501.3,524.9 501.6,525.5 501.9,525.2 502.2,525.8 502.5,525.5 502.8,526.2 503.1,525.8 503.4,527.4 503.7,526.0 504.0,526.8 504.3,526.4 504.6,527.4 504.9,526.6 505.2,527.7 505.5,526.6 505.8,528.0 506.1,526.8 506.4,528.4 506.7,527.1 507.0,528.4 507.3,527.2 507.6,528.4 507.9,527.0 508.2,530.2 508.5,527.4 508.8,528.6 509.1,527.1 509.4,528.3 509.7,527.1 510.0,528.8 510.3,526.8 510.6,528.5 510.9,527.2 511.2,528.9 511.5,526.7 511.8,529.7 512.1,527.0 512.4,528.7 512.7,526.9 513.0,529.5 513.3,527.0 513.6,529.7 513.9,527.0 514.2,529.6 514.5,526.6 514.8,528.6 515.1,526.9 515.4,528.2 515.7,526.7 516.0,528.9 516.3,526.7 516.6,530.4 516.9,526.1 517.2,528.1 517.5,525.8 517.8,529.3 518.1,526.4 518.4,528.4 518.7,525.7 519.0,528.4 519.3,526.0 519.6,529.7 519.9,525.9 520.2,528.7 520.5,525.6 520.8,528.1 521.1,525.7 521.4,527.9 521.7,525.1 522.0,526.8 522.3,525.3 522.6,526.8 522.9,525.1 523.2,528.1 523.5,525.0 523.8,527.2 524.1,525.2 524.4,526.6 524.7,524.4 525.0,528.1 525.3,524.6 525.6,527.7 525.9,524.7 526.2,527.1 526.5,524.3 526.8,526.4 527.1,524.1 527.4,526.6 527.7,524.4 528.0,525.9 528.3,524.3 528.6,527.1 528.9,524.3 529.2,528.6 529.5,523.6 529.8,525.8 530.1,524.0 530.4,526.6 530.7,523.6 531.0,528.1 531.3,523.5 531.6,525.7 531.9,523.6 532.2,526.8 532.5,523.1 532.8,525.9 533.1,523.6 533.4,525.5 533.7,523.4 534.0,525.8 534.3,522.9 534.6,526.5 534.9,523.1 535.2,526.5 535.5,522.8 535.8,526.7 536.1,523.4 536.4,525.5 536.7,523.2 537.0,528.2 537.3,523.0 537.6,525.3 537.9,522.9 538.2,524.7 538.5,522.9 538.8,525.8 539.1,523.2 539.4,525.3 539.7,522.7 540.0,525.5 540.3,523.2 540.6,524.9 540.9,523.2 541.2,526.2 541.5,523.7 541.8,526.1 542.1,523.7 542.4,526.7 542.7,523.8 543.0,525.8 543.3,524.1 543.6,526.5 543.9,524.2 544.2,527.3 544.5,523.7 544.8,526.3 545.1,524.1 545.4,526.8 545.7,524.0 546.0,527.6 546.3,524.6 546.6,526.3 546.9,524.9 547.2,526.5 547.5,524.5 547.8,527.5 548.1,524.5 548.4,526.9 548.7,524.6 549.0,526.7 549.3,525.1 549.6,527.6 549.9,524.8 550.2,528.3 550.5,525.1 550.8,527.8 551.1,525.1 551.4,527.6 551.7,525.3 552.0,528.8 552.3,525.3 552.6,529.0 552.9,526.0 553.2,530.7 553.5,525.7 553.8,529.0 554.1,526.0 554.4,531.2 554.7,526.1 555.0,528.9 555.3,527.0 555.6,528.6 555.9,527.1 556.2,529.5 556.5,526.7 556.8,529.4 557.1,527.1 557.4,530.1 557.7,527.3 558.0,530.2 558.3,526.6 558.6,528.7 558.9,527.3 559.2,529.9 559.5,526.7 559.8,532.5 560.1,527.0 560.4,529.3 560.7,527.1 561.0,528.9 561.3,526.7 561.6,529.5 561.9,527.1 562.2,530.3 562.5,526.7 562.8,528.7 563.1,526.6 563.4,530.2 563.7,526.8 564.0,529.6 564.3,526.6 564.6,532.8 564.9,526.9 565.2,529.7 565.5,527.1 565.8,528.7 566.1,527.2 566.4,528.7 566.7,526.9 567.0,529.7 567.3,526.8 567.6,529.5 567.9,526.8 568.2,530.1 568.5,527.4 568.8,529.0 569.1,527.3 569.4,529.6 569.7,527.3 570.0,529.3 570.3,527.3 570.6,529.9 570.9,526.5 571.2,529.6 571.5,527.0 571.8,529.6 572.1,526.6 572.4,529.4 572.7,527.1 573.0,530.1 573.3,526.8 573.6,529.6 573.9,527.0 574.2,528.5 574.5,526.7 574.8,529.3 575.1,527.1 575.4,528.6 575.7,526.4 576.0,529.5 576.3,526.5 576.6,528.9 576.9,526.6 577.2,529.5 577.5,527.3 577.8,528.8 578.1,526.8 578.4,529.7 578.7,527.3 579.0,529.8 579.3,526.9 579.6,529.4 579.9,527.1 580.2,529.6 580.5,526.9 580.8,532.5 581.1,526.9 581.4,529.7 581.7,527.0 582.0,529.0 582.3,526.6 582.6,531.8 582.9,526.6 583.2,529.9 583.5,526.2 583.8,529.3 584.1,526.6 584.4,528.0 584.7,526.2 585.0,528.7 585.3,526.1 585.6,528.8 585.9,526.1 586.2,529.1 586.5,526.2 586.8,528.0 587.1,526.1 587.4,529.1 587.7,525.5 588.0,528.9 588.3,525.3 588.6,528.4 588.9,525.3 589.2,527.6 589.5,525.7 589.8,527.4 590.1,525.2 590.4,528.2 590.7,525.1 591.0,527.5 591.3,525.3"/>
<polyline fill="none" stroke="#00c000" stroke-width="0.58" clip-path="url(#cR3)" points="499.7,524.7 500.0,524.9 500.3,525.0 500.6,525.4 500.9,525.3 501.2,525.8 501.5,525.7 501.8,526.1 502.1,526.0 502.4,526.6 502.7,526.2 503.0,526.7 503.3,526.6 503.6,527.1 503.9,526.9 504.2,528.2 504.5,527.1 504.8,527.9 505.1,527.3 505.4,528.2 505.7,527.5 506.0,530.2 506.3,527.9 506.6,529.5 506.9,528.1 507.2,529.4 507.5,528.2 507.8,530.2 508.1,528.6 508.4,530.5 508.7,529.0 509.0,530.5 509.3,528.8 509.6,531.2 509.9,529.2 510.2,530.7 510.5,529.4 510.8,531.6 511.1,529.6 511.4,533.5 511.7,529.3 512.0,531.1 512.3,529.4 512.6,532.0 512.9,529.4 513.2,532.5 513.5,529.6 513.8,531.8 514.1,529.7 514.4,531.3 514.7,529.5 515.0,532.2 515.3,529.5 515.6,532.1 515.9,529.2 516.2,531.1 516.5,529.5 516.8,534.1 517.1,529.0 517.4,531.9 517.7,529.3 518.0,534.7 518.3,529.0 518.6,534.1 518.9,529.1 519.2,531.9 519.5,528.4 519.8,530.7 520.1,528.9 520.4,530.6 520.7,528.9 521.0,530.9 521.3,528.6 521.6,531.4 521.9,528.5 522.2,531.2 522.5,528.5 522.8,534.1 523.1,528.1 523.4,530.8 523.7,528.4 524.0,530.0 524.3,527.7 524.6,530.0 524.9,527.8 525.2,530.5 525.5,528.0 525.8,530.0 526.1,528.1 526.4,530.8 526.7,528.5 527.0,529.8 527.3,528.3 527.6,530.6 527.9,528.4 528.2,531.3 528.5,528.3 528.8,531.0 529.1,528.1 529.4,531.8 529.7,528.2 530.0,531.5 530.3,528.5 530.6,531.6 530.9,528.9 531.2,530.8 531.5,528.2 531.8,530.5 532.1,528.6 532.4,531.6 532.7,528.7 533.0,533.7 533.3,528.4 533.6,530.9 533.9,529.0 534.2,530.8 534.5,528.7 534.8,531.9 535.1,528.7 535.4,530.6 535.7,528.6 536.0,531.1 536.3,528.4 536.6,531.1 536.9,528.3 537.2,532.0 537.5,528.2 537.8,530.7 538.1,528.2 538.4,530.5 538.7,528.1 539.0,530.1 539.3,528.2 539.6,530.7 539.9,527.9 540.2,530.6 540.5,528.2 540.8,529.7 541.1,527.8 541.4,529.5 541.7,527.6 542.0,529.9 542.3,527.5 542.6,529.8 542.9,527.7 543.2,530.1 543.5,527.2 543.8,529.7 544.1,527.8 544.4,529.7 544.7,527.7 545.0,529.2 545.3,527.1 545.6,530.3 545.9,526.9 546.2,530.2 546.5,526.7 546.8,528.9 547.1,526.8 547.4,528.8 547.7,526.6 548.0,529.3 548.3,526.7 548.6,530.1 548.9,526.8 549.2,528.5 549.5,526.8 549.8,529.7 550.1,526.2 550.4,529.4 550.7,526.5 551.0,529.6 551.3,526.4 551.6,532.1 551.9,526.2 552.2,528.3 552.5,525.7 552.8,528.0 553.1,525.9 553.4,528.0 553.7,526.1 554.0,528.2 554.3,526.7 554.6,531.2 554.9,526.4 555.2,532.0 555.5,526.9 555.8,529.2 556.1,527.0 556.4,530.6 556.7,527.3 557.0,529.5 557.3,527.5 557.6,529.9 557.9,527.5 558.2,530.0 558.5,527.9 558.8,530.6 559.1,528.3 559.4,530.7 559.7,527.9 560.0,530.7 560.3,528.5 560.6,533.4 560.9,528.4 561.2,531.2 561.5,528.7 561.8,531.7 562.1,528.7 562.4,531.9 562.7,528.4 563.0,530.8 563.3,529.0 563.6,531.3 563.9,528.6 564.2,531.9 564.5,529.0 564.8,531.8 565.1,528.7 565.4,534.3 565.7,528.5 566.0,534.5 566.3,528.9 566.6,533.1 566.9,528.6 567.2,531.2 567.5,529.2 567.8,533.8 568.1,529.1 568.4,531.9 568.7,529.2 569.0,531.8 569.3,529.2 569.6,531.2 569.9,528.7 570.2,531.2 570.5,529.1 570.8,531.6 571.1,529.2 571.4,530.8 571.7,528.8 572.0,534.8 572.3,529.5 572.6,532.4 572.9,529.1 573.2,531.8 573.5,529.9 573.8,531.1 574.1,529.9 574.4,532.8 574.7,530.1 575.0,533.4 575.3,529.5 575.6,531.8 575.9,529.5 576.2,533.1 576.5,529.9 576.8,533.1 577.1,530.2 577.4,531.9 577.7,530.3 578.0,535.3 578.3,530.5 578.6,533.2 578.9,530.0 579.2,532.5 579.5,530.1 579.8,533.1 580.1,530.8 580.4,532.2 580.7,530.7 581.0,532.9 581.3,530.4 581.6,533.2 581.9,530.9 582.2,532.8 582.5,530.9 582.8,533.9 583.1,531.1 583.4,533.9 583.7,531.2 584.0,533.7 584.3,531.1 584.6,533.8 584.9,531.3 585.2,533.8 585.5,531.2 585.8,534.4 586.1,531.2 586.4,534.8 586.7,531.3 587.0,534.6 587.3,531.4 587.6,535.0 587.9,531.8 588.2,534.2 588.5,531.2 588.8,534.0 589.1,531.4 589.4,533.5 589.7,531.5 590.0,537.0 590.3,531.0 590.6,536.5 590.9,530.9 591.2,533.4 591.5,530.5"/>
<polyline fill="none" stroke="#0000f0" stroke-width="0.58" clip-path="url(#cR3)" points="499.6,523.2 499.9,523.5 500.2,523.6 500.5,524.0 500.8,524.0 501.1,524.5 501.4,524.4 501.7,524.8 502.0,524.6 502.3,525.1 502.6,524.9 502.9,525.7 503.2,525.2 503.5,526.3 503.8,525.5 504.1,526.4 504.4,525.8 504.7,526.6 505.0,526.2 505.3,527.1 505.6,526.3 505.9,527.8 506.2,526.7 506.5,527.5 506.8,526.6 507.1,527.8 507.4,527.0 507.7,527.9 508.0,527.0 508.3,528.5 508.6,527.4 508.9,528.8 509.2,527.5 509.5,529.4 509.8,527.6 510.1,529.3 510.4,527.7 510.7,529.3 511.0,528.2 511.3,529.6 511.6,528.4 511.9,531.8 512.2,528.3 512.5,530.9 512.8,528.6 513.1,529.9 513.4,529.0 513.7,530.7 514.0,528.5 514.3,530.5 514.6,528.6 514.9,531.1 515.2,529.1 515.5,531.0 515.8,529.5 516.1,532.4 516.4,529.8 516.7,531.8 517.0,529.7 517.3,533.1 517.6,530.1 517.9,532.3 518.2,530.3 518.5,533.2 518.8,530.2 519.1,532.9 519.4,530.5 519.7,533.8 520.0,531.0 520.3,533.1 520.6,530.8 520.9,534.0 521.2,531.2 521.5,535.0 521.8,530.7 522.1,534.2 522.4,531.3 522.7,536.6 523.0,531.4 523.3,533.0 523.6,531.0 523.9,537.2 524.2,531.4 524.5,537.1 524.8,531.6 525.1,533.9 525.4,531.4 525.7,537.2 526.0,532.1 526.3,534.4 526.6,532.2 526.9,538.0 527.2,531.6 527.5,533.7 527.8,531.8 528.1,534.2 528.4,532.1 528.7,534.7 529.0,532.5 529.3,534.3 529.6,532.2 529.9,534.4 530.2,532.1 530.5,535.0 530.8,532.5 531.1,534.7 531.4,532.6 531.7,535.1 532.0,532.5 532.3,535.7 532.6,532.7 532.9,535.0 533.2,532.5 533.5,535.4 533.8,531.8 534.1,534.4 534.4,532.0 534.7,533.4 535.0,531.5 535.3,533.7 535.6,531.2 535.9,534.4 536.2,531.0 536.5,533.0 536.8,530.7 537.1,532.7 537.4,531.1 537.7,533.5 538.0,530.9 538.3,532.9 538.6,530.5 538.9,533.0 539.2,529.9 539.5,533.5 539.8,530.4 540.1,532.6 540.4,529.6 540.7,534.3 541.0,529.4 541.3,532.8 541.6,529.3 541.9,531.3 542.2,529.6 542.5,531.8 542.8,529.1 543.1,532.2 543.4,528.9 543.7,532.0 544.0,529.5 544.3,532.0 544.6,529.4 544.9,535.1 545.2,529.4 545.5,531.3 545.8,529.6 546.1,533.9 546.4,530.2 546.7,532.9 547.0,530.0 547.3,533.3 547.6,530.1 547.9,533.7 548.2,530.4 548.5,532.7 548.8,531.1 549.1,532.8 549.4,531.2 549.7,534.1 550.0,530.8 550.3,532.9 550.6,531.6 550.9,534.0 551.2,531.8 551.5,534.5 551.8,531.9 552.1,533.9 552.4,531.8 552.7,535.1 553.0,531.8 553.3,534.0 553.6,532.1 553.9,536.1 554.2,532.7 554.5,535.8 554.8,532.8 555.1,534.4 555.4,532.8 555.7,537.9 556.0,533.5 556.3,535.8 556.6,533.2 556.9,535.2 557.2,533.6 557.5,536.7 557.8,534.0 558.1,536.4 558.4,534.2 558.7,536.9 559.0,534.2 559.3,537.0 559.6,534.6 559.9,536.4 560.2,534.6 560.5,536.4 560.8,535.0 561.1,536.9 561.4,534.4 561.7,537.5 562.0,534.4 562.3,538.7 562.6,534.0 562.9,537.3 563.2,534.1 563.5,537.3 563.8,534.4 564.1,535.8 564.4,533.6 564.7,537.7 565.0,534.0 565.3,537.2 565.6,533.8 565.9,535.8 566.2,533.6 566.5,536.9 566.8,533.7 567.1,536.3 567.4,533.0 567.7,535.1 568.0,533.5 568.3,534.9 568.6,532.5 568.9,535.0 569.2,532.5 569.5,534.4 569.8,532.2 570.1,534.9 570.4,532.4 570.7,534.8 571.0,531.7 571.3,537.0 571.6,531.8 571.9,534.5 572.2,532.1 572.5,533.5 572.8,531.4 573.1,534.2 573.4,531.6 573.7,533.3 574.0,531.4 574.3,533.1 574.6,531.1 574.9,535.6 575.2,530.8 575.5,536.7 575.8,531.4 576.1,536.8 576.4,530.7 576.7,533.3 577.0,530.6 577.3,533.0 577.6,530.5 577.9,533.8 578.2,530.7 578.5,532.7 578.8,531.0 579.1,533.1 579.4,530.7 579.7,533.5 580.0,531.2 580.3,534.1 580.6,530.7 580.9,533.2 581.2,530.6 581.5,532.7 581.8,530.4 582.1,534.0 582.4,530.6 582.7,532.7 583.0,531.1 583.3,533.2 583.6,530.5 583.9,532.8 584.2,531.2 584.5,532.6 584.8,530.6 585.1,533.9 585.4,531.2 585.7,533.2 586.0,530.9 586.3,535.0 586.6,530.9 586.9,532.5 587.2,530.9 587.5,533.1 587.8,531.1 588.1,532.5 588.4,530.9 588.7,532.6 589.0,531.2 589.3,536.9 589.6,530.4 589.9,532.7 590.2,530.8 590.5,532.5 590.8,530.7 591.1,533.8 591.4,530.8"/>
<polyline fill="none" stroke="#f00000" stroke-width="0.58" clip-path="url(#cL2)" points="105.0,359.9 105.2,361.0 105.5,362.1 105.8,363.2 106.0,364.1 106.2,364.9 106.5,365.6 106.8,366.4 107.0,366.9 107.2,367.4 107.5,367.9 107.8,368.4 108.0,368.9 108.2,369.4 108.5,369.9 108.8,370.2 109.0,370.5 109.2,370.8 109.5,371.1 109.8,371.4 110.0,371.7 110.2,372.0 110.5,372.3 110.8,372.6 111.0,372.9 111.2,373.1 111.5,373.3 111.8,373.5 112.0,373.7 112.2,373.9 112.5,374.1 112.8,374.3 113.0,374.5 113.2,374.7 113.5,374.9 113.8,375.1 114.0,375.3 114.2,375.4 114.5,375.5 114.8,375.7 115.0,375.8 115.2,375.9 115.5,376.1 115.8,376.2 116.0,376.3 116.2,376.5 116.5,376.6 116.8,376.7 117.0,376.8 117.2,376.9 117.5,377.1 117.8,377.2 118.0,377.3 118.2,377.6 118.5,377.5 118.8,378.2 119.0,377.8 119.2,378.1 119.5,377.7 119.8,378.1 120.0,377.7 120.2,378.1 120.5,377.6 120.8,379.3 121.0,377.6 121.2,378.2 121.5,377.6 121.8,378.3 122.0,377.5 122.2,378.3 122.5,377.5 122.8,380.2 123.0,377.4 123.2,378.7 123.5,377.6 123.8,380.1 124.0,377.5 124.2,379.0 124.5,377.4 124.8,378.7 125.0,377.1 125.2,379.4 125.5,377.1 125.8,381.4 126.0,377.0 126.2,381.3 126.5,376.7 126.8,380.4 127.0,376.5 127.2,378.0 127.5,376.4 127.8,382.2 128.0,376.3 128.2,382.3 128.5,376.0 128.8,378.7 129.0,375.9 129.2,381.2 129.5,375.6 129.8,377.7 130.0,375.7 130.2,380.8 130.5,375.4 130.8,380.0 131.0,375.2 131.2,379.1 131.5,375.4 131.8,382.1 132.0,374.7 132.2,377.8 132.5,375.0 132.8,377.2 133.0,374.3 133.2,384.1 133.5,374.2 133.8,377.7 134.0,374.1 134.2,377.2 134.5,374.1 134.8,379.0 135.0,373.8 135.2,377.6 135.5,373.7 135.8,378.7 136.0,373.7 136.2,380.0 136.5,373.3 136.8,377.7 137.0,372.9 137.2,376.9 137.5,372.6 137.8,379.2 138.0,372.9 138.2,384.2 138.5,372.8 138.8,378.3 139.0,372.3 139.2,378.4 139.5,372.4 139.8,384.9 140.0,371.7 140.2,378.9 140.5,371.9 140.8,385.4 141.0,371.7 141.2,379.2 141.5,371.4 141.8,378.7 142.0,371.2 142.2,378.3 142.5,371.2 142.8,378.0 143.0,371.1 143.2,383.0 143.5,371.3 143.8,375.5 144.0,370.6 144.2,375.3 144.5,370.6 144.8,385.8 145.0,370.1 145.2,383.5 145.5,370.0 145.8,376.0 146.0,370.0 146.2,374.7 146.5,370.1 146.8,375.4 147.0,370.1 147.2,385.4 147.5,369.5 147.8,374.4 148.0,369.6 148.2,377.7 148.5,370.0 148.8,376.6 149.0,370.1 149.2,374.4 149.5,370.5 149.8,375.9 150.0,370.5 150.2,385.0 150.5,370.8 150.8,377.7 151.0,370.5 151.2,378.5 151.5,371.2 151.8,377.5 152.0,371.1 152.2,377.1 152.5,370.7 152.8,385.3 153.0,371.0 153.2,384.6 153.5,371.0 153.8,377.9 154.0,371.2 154.2,378.0 154.5,370.9 154.8,376.4 155.0,371.3 155.2,378.6 155.5,370.8 155.8,378.4 156.0,371.1 156.2,375.1 156.5,370.9 156.8,378.0 157.0,371.2 157.2,376.6 157.5,370.8 157.8,377.7 158.0,370.5 158.2,380.0 158.5,370.6 158.8,387.4 159.0,370.5 159.2,375.7 159.5,370.4 159.8,374.8 160.0,370.2 160.2,379.0 160.5,370.4 160.8,379.8 161.0,370.0 161.2,374.5 161.5,370.2 161.8,377.8 162.0,370.5 162.2,377.0 162.5,370.5 162.8,374.7 163.0,369.8 163.2,376.1 163.5,370.2 163.8,374.7 164.0,370.3 164.2,375.6 164.5,369.8 164.8,383.1 165.0,370.0 165.2,374.9 165.5,370.1 165.8,383.6 166.0,369.5 166.2,377.6 166.5,369.6 166.8,374.5 167.0,369.5 167.2,381.6 167.5,369.3 167.8,375.8 168.0,369.5 168.2,374.4 168.5,369.4 168.8,373.4 169.0,369.8 169.2,378.2 169.5,369.7 169.8,375.0 170.0,369.3 170.2,377.2 170.5,369.3 170.8,378.5 171.0,369.6 171.2,380.3 171.5,369.4 171.8,373.5 172.0,369.4 172.2,375.6 172.5,369.7 172.8,375.6 173.0,369.6 173.2,375.5 173.5,369.7 173.8,374.8 174.0,369.0 174.2,374.7 174.5,369.5 174.8,382.5 175.0,369.5 175.2,375.9 175.5,369.7 175.8,375.3 176.0,369.7 176.2,376.5 176.5,370.0 176.8,375.9 177.0,369.9 177.2,379.9 177.5,369.8 177.8,377.4 178.0,369.6 178.2,376.8 178.5,370.0 178.8,374.5 179.0,370.2 179.2,376.1 179.5,369.5 179.8,377.0 180.0,370.1 180.2,375.4 180.5,369.4 180.8,375.4 181.0,369.9 181.2,375.2 181.5,370.0 181.8,386.2 182.0,369.2 182.2,375.8 182.5,369.5 182.8,375.4 183.0,369.5 183.2,384.5 183.5,369.5 183.8,378.3 184.0,369.3 184.2,376.7 184.5,369.2 184.8,384.6 185.0,368.9 185.2,375.1 185.5,369.6 185.8,384.2 186.0,369.3 186.2,382.0 186.5,368.8 186.8,376.7 187.0,369.1 187.2,375.2 187.5,368.7 187.8,373.2 188.0,369.0 188.2,381.5 188.5,368.5 188.8,372.8 189.0,368.3 189.2,375.4 189.5,369.0 189.8,376.5 190.0,368.3 190.2,375.0 190.5,368.2 190.8,378.6 191.0,368.5 191.2,375.2 191.5,368.5 191.8,382.8 192.0,368.4 192.2,381.8 192.5,368.0 192.8,374.1 193.0,368.8 193.2,380.5 193.5,368.5 193.8,376.0 194.0,368.8 194.2,374.9 194.5,369.0 194.8,382.1 195.0,369.8 195.2,373.5 195.5,370.0 195.8,375.5 196.0,369.8 196.2,376.8 196.5,370.1 196.8,386.2 197.0,370.5 197.2,386.6 197.5,370.4 197.8,377.3 198.0,371.4 198.2,376.1 198.5,371.9 198.8,377.9 199.0,372.7 199.2,379.5 199.5,373.5 199.8,380.2 200.0,373.6 200.2,381.0 200.5,374.7 200.8,380.9 201.0,375.4 201.2,388.3 201.5,374.6 201.8,381.3 202.0,374.2 202.2,379.6 202.5,373.5 202.8,386.6 203.0,373.1 203.2,383.5 203.5,373.0 203.8,378.9 204.0,371.9 204.2,385.1 204.5,371.2 204.8,384.6 205.0,371.0 205.2,386.9 205.5,369.6 205.8,380.6 206.0,369.6 206.2,375.8 206.5,368.6 206.8,372.7 207.0,368.3 207.2,376.8 207.5,367.4 207.8,373.3 208.0,366.2 208.2,372.0 208.5,365.4 208.8,382.1 209.0,364.5 209.2,375.6 209.5,364.5 209.8,371.0 210.0,363.5 210.2,377.6 210.5,362.4 210.8,370.0 211.0,361.5 211.2,366.3 211.5,360.7 211.8,366.3 212.0,360.1 212.2,364.0 212.5,359.4 212.8,366.4 213.0,358.4 213.2,362.6 213.5,357.7 213.8,362.1 214.0,356.8 214.2,362.2 214.5,356.1 214.8,360.3 215.0,355.8 215.2,360.9 215.5,354.7 215.8,360.0 216.0,354.5 216.2,365.0 216.5,354.5 216.8,358.3 217.0,353.7 217.2,359.2 217.5,354.1 217.8,360.1 218.0,353.4 218.2,359.0 218.5,353.3 218.8,357.5 219.0,352.8 219.2,360.8 219.5,353.7 219.8,357.9 220.0,354.0 220.2,369.5 220.5,354.1 220.8,360.3 221.0,354.3 221.2,362.1 221.5,354.9 221.8,360.5 222.0,355.0 222.2,370.9 222.5,356.1 222.8,361.1 223.0,356.3 223.2,361.7 223.5,356.9 223.8,361.8 224.0,357.6 224.2,372.1 224.5,359.1 224.8,369.6 225.0,359.5 225.2,368.5 225.5,360.2 225.8,365.8 226.0,360.8 226.2,371.5 226.5,361.4 226.8,370.6 227.0,362.7 227.2,374.4 227.5,362.9 227.8,378.3 228.0,364.2 228.2,369.1 228.5,364.2 228.8,368.5 229.0,364.4 229.2,370.1 229.5,365.1 229.8,370.1 230.0,365.6 230.2,370.3 230.5,366.0 230.8,372.1 231.0,366.0 231.2,373.0 231.5,366.3 231.8,373.5 232.0,367.0 232.2,374.3 232.5,367.1 232.8,372.4 233.0,367.3 233.2,383.9 233.5,367.9 233.8,377.8 234.0,368.2 234.2,375.7 234.5,368.8 234.8,380.5 235.0,369.3 235.2,375.4 235.5,368.6 235.8,375.0 236.0,369.5 236.2,376.1 236.5,369.1 236.8,376.8 237.0,369.0 237.2,375.5 237.5,369.3 237.8,384.5 238.0,369.4 238.2,373.6 238.5,369.7 238.8,373.7 239.0,369.5 239.2,377.5 239.5,370.0 239.8,380.6 240.0,370.3 240.2,375.8 240.5,370.4 240.8,381.7 241.0,370.7 241.2,376.2 241.5,370.7 241.8,376.5 242.0,370.3 242.2,384.6 242.5,370.5 242.8,374.7 243.0,371.1 243.2,384.4 243.5,370.9 243.8,375.5 244.0,370.9 244.2,375.0 244.5,370.6 244.8,386.9 245.0,370.7 245.2,377.3 245.5,371.4 245.8,375.9 246.0,370.7 246.2,377.8 246.5,371.3 246.8,375.4 247.0,371.3 247.2,378.9 247.5,371.0 247.8,375.3 248.0,371.4 248.2,377.3 248.5,371.1 248.8,376.7 249.0,371.6 249.2,376.5 249.5,371.6 249.8,379.9 250.0,372.5 250.2,386.0 250.5,372.2 250.8,380.5 251.0,372.7 251.2,385.9 251.5,373.2 251.8,381.0 252.0,373.5 252.2,378.3 252.5,373.8 252.8,379.8 253.0,374.0 253.2,389.8 253.5,374.8 253.8,381.3 254.0,374.5 254.2,383.3 254.5,375.1 254.8,381.8 255.0,375.5 255.2,381.0 255.5,375.6 255.8,391.2 256.0,376.0 256.2,382.8 256.5,376.2 256.8,385.7 257.0,375.8 257.2,380.6 257.5,375.8 257.8,380.8 258.0,376.0 258.2,387.4 258.5,375.9 258.8,381.7 259.0,376.0 259.2,382.3 259.5,375.8 259.8,380.2 260.0,376.2 260.2,382.3 260.5,376.0 260.8,380.4 261.0,375.8 261.2,382.3 261.5,376.1 261.8,381.2 262.0,376.0 262.2,381.9 262.5,375.9 262.8,383.4 263.0,375.3 263.2,379.8 263.5,375.5 263.8,383.1 264.0,374.9 264.2,391.6 264.5,374.9 264.8,380.4 265.0,374.5 265.2,387.5 265.5,374.2 265.8,382.2 266.0,374.6 266.2,379.3 266.5,374.0 266.8,379.1 267.0,374.5 267.2,381.2 267.5,375.7 267.8,385.0 268.0,375.9 268.2,380.6 268.5,376.3 268.8,382.4 269.0,376.6 269.2,381.4 269.5,376.9 269.8,393.0 270.0,377.6 270.2,382.4 270.5,378.6 270.8,393.7 271.0,378.8 271.2,386.5 271.5,378.9 271.8,389.7 272.0,379.3 272.2,384.4 272.5,380.3 272.8,387.1 273.0,381.1 273.2,386.3 273.5,381.5 273.8,394.2 274.0,381.4 274.2,386.8 274.5,382.3 274.8,388.8 275.0,382.4 275.2,390.3 275.5,382.4 275.8,387.3 276.0,382.9 276.2,394.7 276.5,383.7 276.8,388.4 277.0,384.2 277.2,388.7 277.5,385.0 277.8,390.0 278.0,385.3 278.2,391.8 278.5,385.8 278.8,390.8 279.0,385.1 279.2,391.8 279.5,385.5 279.8,389.7 280.0,385.6 280.2,391.7 280.5,386.1 280.8,396.4 281.0,386.3 281.2,395.4 281.5,386.3 281.8,392.5 282.0,386.7 282.2,393.4 282.5,386.9 282.8,391.8 283.0,386.9 283.2,396.4 283.5,386.7 283.8,400.1 284.0,386.8 284.2,401.5 284.5,386.6 284.8,392.0 285.0,387.4 285.2,398.4 285.5,387.4 285.8,394.2 286.0,386.4 286.2,394.6 286.5,386.4 286.8,392.2 287.0,385.9 287.2,390.5 287.5,385.2 287.8,400.7 288.0,385.4 288.2,392.8 288.5,385.1 288.8,389.4 289.0,384.3 289.2,396.5 289.5,383.6 289.8,388.1 290.0,383.5 290.2,389.0 290.5,383.4 290.8,390.6 291.0,382.9 291.2,392.8 291.5,382.9 291.8,387.0 292.0,382.8 292.2,395.4 292.5,382.7 292.8,386.9 293.0,381.9 293.2,395.5 293.5,382.5 293.8,389.0 294.0,382.3 294.2,387.3 294.5,382.4 294.8,389.8 295.0,383.1 295.2,388.2 295.5,382.8 295.8,388.6 296.0,383.5 296.2,390.7 296.5,384.3 296.8,390.9 297.0,384.8 297.2,391.5 297.5,385.5 297.8,401.0 298.0,385.2 298.2,389.8 298.5,386.3 298.8,395.8 299.0,386.9 299.2,401.0 299.5,386.8 299.8,398.8 300.0,387.7 300.2,393.1 300.5,388.3 300.8,397.8 301.0,388.3 301.2,395.1 301.5,389.2 301.8,395.5 302.0,389.4 302.2,400.7 302.5,389.6 302.8,395.9 303.0,389.8 303.2,401.1 303.5,390.1 303.8,398.2 304.0,391.1 304.2,404.3 304.5,390.9 304.8,401.7 305.0,391.8 305.2,397.8 305.5,391.6 305.8,398.9 306.0,392.5 306.2,397.9 306.5,392.7 306.8,405.8 307.0,392.2 307.2,399.3 307.5,392.4 307.8,409.3 308.0,392.9 308.2,399.4 308.5,393.2 308.8,407.8 309.0,393.4 309.2,400.7 309.5,394.2 309.8,404.8 310.0,394.3"/>
<polyline fill="none" stroke="#00c000" stroke-width="0.58" clip-path="url(#cL2)" points="105.0,359.9 105.2,361.0 105.5,362.1 105.8,363.2 106.0,364.1 106.2,364.9 106.5,365.6 106.8,366.4 107.0,366.9 107.2,367.4 107.5,367.9 107.8,368.4 108.0,368.9 108.2,369.4 108.5,369.9 108.8,370.2 109.0,370.5 109.2,370.8 109.5,371.1 109.8,371.4 110.0,371.7 110.2,372.0 110.5,372.3 110.8,372.6 111.0,372.9 111.2,373.1 111.5,373.3 111.8,373.5 112.0,373.7 112.2,373.9 112.5,374.1 112.8,374.3 113.0,374.5 113.2,374.7 113.5,374.9 113.8,375.1 114.0,375.3 114.2,375.4 114.5,375.5 114.8,375.7 115.0,375.8 115.2,375.9 115.5,376.1 115.8,376.2 116.0,376.3 116.2,376.5 116.5,376.6 116.8,376.7 117.0,376.8 117.2,376.9 117.5,377.1 117.8,377.2 118.0,377.3 118.2,377.5 118.5,377.5 118.8,377.8 119.0,377.8 119.2,378.0 119.5,377.8 119.8,378.1 120.0,377.8 120.2,378.3 120.5,377.7 120.8,378.3 121.0,377.8 121.2,378.4 121.5,377.8 121.8,378.4 122.0,377.8 122.2,378.7 122.5,377.8 122.8,379.4 123.0,377.7 123.2,379.0 123.5,377.8 123.8,378.6 124.0,377.8 124.2,379.4 124.5,377.8 124.8,380.6 125.0,377.6 125.2,378.4 125.5,377.5 125.8,378.4 126.0,377.2 126.2,380.0 126.5,377.0 126.8,378.6 127.0,377.1 127.2,378.7 127.5,376.8 127.8,378.4 128.0,376.9 128.2,378.8 128.5,376.5 128.8,379.4 129.0,376.2 129.2,378.0 129.5,376.4 129.8,378.4 130.0,376.0 130.2,378.6 130.5,376.0 130.8,377.7 131.0,375.7 131.2,379.4 131.5,375.8 131.8,377.9 132.0,375.3 132.2,378.1 132.5,374.9 132.8,379.0 133.0,375.0 133.2,376.9 133.5,374.5 133.8,377.6 134.0,374.5 134.2,376.8 134.5,374.0 134.8,377.0 135.0,374.2 135.2,377.0 135.5,373.7 135.8,376.3 136.0,373.2 136.2,377.4 136.5,373.1 136.8,375.4 137.0,372.9 137.2,375.8 137.5,372.6 137.8,375.3 138.0,372.1 138.2,376.9 138.5,372.4 138.8,376.3 139.0,372.2 139.2,375.1 139.5,371.4 139.8,375.8 140.0,371.2 140.2,377.0 140.5,371.4 140.8,374.9 141.0,370.9 141.2,373.7 141.5,370.5 141.8,375.5 142.0,369.9 142.2,373.2 142.5,370.0 142.8,372.7 143.0,369.5 143.2,377.8 143.5,369.2 143.8,373.4 144.0,369.3 144.2,374.2 144.5,368.5 144.8,377.5 145.0,368.0 145.2,371.5 145.5,368.1 145.8,373.6 146.0,367.4 146.2,375.5 146.5,367.8 146.8,371.5 147.0,366.9 147.2,375.5 147.5,366.6 147.8,371.7 148.0,366.6 148.2,371.1 148.5,366.2 148.8,368.9 149.0,365.7 149.2,370.2 149.5,365.6 149.8,370.1 150.0,365.5 150.2,370.3 150.5,365.3 150.8,368.2 151.0,364.5 151.2,369.7 151.5,364.5 151.8,370.9 152.0,364.2 152.2,367.3 152.5,364.2 152.8,369.4 153.0,363.7 153.2,368.7 153.5,363.1 153.8,368.8 154.0,363.1 154.2,368.2 154.5,363.1 154.8,367.3 155.0,362.6 155.2,365.9 155.5,362.8 155.8,365.8 156.0,362.0 156.2,365.7 156.5,362.2 156.8,365.4 157.0,361.8 157.2,372.0 157.5,362.0 157.8,365.1 158.0,361.7 158.2,372.1 158.5,362.4 158.8,367.4 159.0,362.2 159.2,365.3 159.5,361.7 159.8,367.9 160.0,362.7 160.2,366.7 160.5,362.6 160.8,367.4 161.0,362.5 161.2,366.5 161.5,362.2 161.8,369.9 162.0,363.0 162.2,365.5 162.5,362.9 162.8,371.4 163.0,363.2 163.2,368.5 163.5,363.5 163.8,366.1 164.0,363.1 164.2,368.1 164.5,363.9 164.8,374.0 165.0,363.9 165.2,367.2 165.5,363.9 165.8,369.3 166.0,364.5 166.2,369.4 166.5,364.4 166.8,370.5 167.0,365.0 167.2,370.7 167.5,365.4 167.8,371.0 168.0,365.2 168.2,370.0 168.5,365.4 168.8,368.5 169.0,365.9 169.2,369.6 169.5,366.1 169.8,374.0 170.0,366.3 170.2,369.2 170.5,366.1 170.8,375.5 171.0,366.2 171.2,371.1 171.5,365.9 171.8,371.5 172.0,366.7 172.2,370.0 172.5,366.7 172.8,371.1 173.0,366.4 173.2,370.3 173.5,366.6 173.8,371.4 174.0,366.1 174.2,371.8 174.5,366.1 174.8,375.3 175.0,365.8 175.2,376.3 175.5,365.6 175.8,372.9 176.0,366.0 176.2,369.7 176.5,365.1 176.8,371.7 177.0,364.7 177.2,369.1 177.5,365.0 177.8,370.2 178.0,364.3 178.2,367.8 178.5,364.2 178.8,368.4 179.0,364.6 179.2,367.5 179.5,364.1 179.8,369.5 180.0,363.5 180.2,370.0 180.5,363.5 180.8,366.7 181.0,363.6 181.2,367.0 181.5,363.5 181.8,369.0 182.0,363.4 182.2,367.2 182.5,362.8 182.8,369.0 183.0,362.9 183.2,366.0 183.5,362.5 183.8,371.5 184.0,362.8 184.2,365.2 184.5,361.9 184.8,367.6 185.0,362.4 185.2,366.0 185.5,361.4 185.8,364.6 186.0,361.3 186.2,366.4 186.5,361.0 186.8,366.0 187.0,361.2 187.2,366.2 187.5,360.4 187.8,363.6 188.0,360.8 188.2,365.0 188.5,360.2 188.8,363.1 189.0,359.7 189.2,369.0 189.5,359.4 189.8,369.8 190.0,359.4 190.2,364.8 190.5,359.2 190.8,365.0 191.0,358.7 191.2,361.8 191.5,358.6 191.8,364.5 192.0,358.8 192.2,361.7 192.5,358.7 192.8,363.4 193.0,357.8 193.2,362.0 193.5,357.7 193.8,362.7 194.0,357.7 194.2,362.7 194.5,357.4 194.8,361.8 195.0,357.3 195.2,360.9 195.5,357.4 195.8,360.5 196.0,356.7 196.2,361.5 196.5,356.8 196.8,361.7 197.0,356.4 197.2,365.7 197.5,356.5 197.8,361.9 198.0,355.9 198.2,365.2 198.5,355.9 198.8,359.1 199.0,355.9 199.2,359.9 199.5,355.4 199.8,363.1 200.0,355.4 200.2,358.7 200.5,355.8 200.8,360.0 201.0,355.2 201.2,361.2 201.5,355.4 201.8,359.0 202.0,355.2 202.2,360.1 202.5,355.8 202.8,361.4 203.0,355.1 203.2,360.2 203.5,355.3 203.8,359.6 204.0,354.9 204.2,359.1 204.5,354.7 204.8,362.3 205.0,355.3 205.2,358.5 205.5,355.3 205.8,359.9 206.0,354.9 206.2,359.9 206.5,355.0 206.8,358.6 207.0,354.8 207.2,359.6 207.5,355.0 207.8,364.6 208.0,355.4 208.2,360.3 208.5,354.6 208.8,363.7 209.0,355.3 209.2,358.4 209.5,354.5 209.8,359.8 210.0,355.3 210.2,360.0 210.5,354.5 210.8,362.8 211.0,354.8 211.2,359.1 211.5,354.8 211.8,360.5 212.0,355.0 212.2,358.2 212.5,355.0 212.8,359.6 213.0,354.9 213.2,360.8 213.5,355.2 213.8,361.2 214.0,355.5 214.2,359.4 214.5,355.8 214.8,363.9 215.0,355.2 215.2,361.3 215.5,355.8 215.8,365.8 216.0,356.1 216.2,360.0 216.5,355.5 216.8,360.5 217.0,355.5 217.2,360.7 217.5,356.3 217.8,359.9 218.0,355.7 218.2,362.6 218.5,356.1 218.8,361.8 219.0,356.3 219.2,361.2 219.5,356.5 219.8,361.8 220.0,356.6 220.2,361.9 220.5,356.3 220.8,359.8 221.0,356.2 221.2,363.2 221.5,356.1 221.8,362.0 222.0,356.2 222.2,360.5 222.5,355.6 222.8,360.4 223.0,355.7 223.2,361.3 223.5,355.2 223.8,363.2 224.0,355.4 224.2,359.0 224.5,354.9 224.8,358.2 225.0,355.0 225.2,360.4 225.5,355.0 225.8,362.5 226.0,354.2 226.2,360.6 226.5,354.0 226.8,358.0 227.0,354.4 227.2,357.8 227.5,354.2 227.8,357.4 228.0,353.7 228.2,357.5 228.5,353.9 228.8,359.6 229.0,353.6 229.2,357.3 229.5,353.5 229.8,359.1 230.0,353.8 230.2,357.7 230.5,353.8 230.8,359.2 231.0,354.3 231.2,359.0 231.5,354.3 231.8,357.8 232.0,354.3 232.2,356.9 232.5,353.9 232.8,359.2 233.0,354.1 233.2,364.2 233.5,354.0 233.8,359.5 234.0,354.6 234.2,360.1 234.5,354.6 234.8,361.9 235.0,354.9 235.2,359.4 235.5,355.2 235.8,361.1 236.0,355.8 236.2,360.7 236.5,356.7 236.8,359.9 237.0,356.6 237.2,362.3 237.5,357.3 237.8,362.8 238.0,357.5 238.2,361.4 238.5,357.9 238.8,367.8 239.0,357.8 239.2,362.4 239.5,358.1 239.8,362.3 240.0,358.9 240.2,362.6 240.5,359.3 240.8,362.1 241.0,359.3 241.2,363.5 241.5,359.1 241.8,364.8 242.0,360.2 242.2,364.2 242.5,360.2 242.8,371.0 243.0,361.0 243.2,367.3 243.5,360.5 243.8,366.2 244.0,360.9 244.2,365.4 244.5,361.2 244.8,365.7 245.0,361.1 245.2,366.3 245.5,361.1 245.8,366.5 246.0,361.7 246.2,367.8 246.5,361.0 246.8,366.5 247.0,362.0 247.2,365.5 247.5,361.7 247.8,364.9 248.0,361.3 248.2,365.6 248.5,362.2 248.8,372.8 249.0,361.6 249.2,367.5 249.5,361.7 249.8,368.5 250.0,361.5 250.2,365.0 250.5,361.6 250.8,366.9 251.0,361.1 251.2,371.6 251.5,361.5 251.8,368.5 252.0,361.6 252.2,367.4 252.5,361.5 252.8,368.3 253.0,360.7 253.2,368.1 253.5,360.4 253.8,372.5 254.0,360.7 254.2,364.8 254.5,360.6 254.8,367.6 255.0,360.7 255.2,366.2 255.5,361.1 255.8,366.4 256.0,360.2 256.2,365.9 256.5,359.8 256.8,367.1 257.0,359.9 257.2,364.2 257.5,359.8 257.8,367.8 258.0,360.0 258.2,364.2 258.5,360.1 258.8,375.3 259.0,359.1 259.2,363.9 259.5,359.2 259.8,367.1 260.0,358.7 260.2,370.3 260.5,359.6 260.8,364.9 261.0,359.4 261.2,365.1 261.5,359.0 261.8,365.8 262.0,358.7 262.2,363.1 262.5,358.6 262.8,366.8 263.0,357.5 263.2,365.0 263.5,357.5 263.8,365.2 264.0,358.3 264.2,368.4 264.5,358.2 264.8,364.2 265.0,357.9 265.2,363.7 265.5,358.1 265.8,364.0 266.0,357.6 266.2,365.2 266.5,356.7 266.8,362.9 267.0,356.9 267.2,364.7 267.5,357.2 267.8,368.9 268.0,357.3 268.2,362.1 268.5,356.7 268.8,364.3 269.0,357.6 269.2,365.8 269.5,357.4 269.8,366.5 270.0,357.4 270.2,364.5 270.5,357.5 270.8,369.7 271.0,357.1 271.2,364.7 271.5,356.3 271.8,364.4 272.0,356.2 272.2,363.0 272.5,356.6 272.8,362.4 273.0,357.3 273.2,364.6 273.5,357.3 273.8,365.4 274.0,357.1 274.2,365.1 274.5,357.5 274.8,373.2 275.0,358.1 275.2,366.8 275.5,357.7 275.8,364.5 276.0,358.3 276.2,365.9 276.5,358.8 276.8,364.4 277.0,358.9 277.2,366.1 277.5,358.3 277.8,367.9 278.0,358.5 278.2,363.9 278.5,358.6 278.8,370.3 279.0,359.6 279.2,366.6 279.5,359.2 279.8,365.0 280.0,360.1 280.2,366.8 280.5,359.6 280.8,374.9 281.0,360.6 281.2,366.7 281.5,360.9 281.8,369.4 282.0,360.9 282.2,371.4 282.5,360.7 282.8,375.9 283.0,361.7 283.2,368.5 283.5,361.5 283.8,367.7 284.0,362.2 284.2,371.5 284.5,362.2 284.8,367.3 285.0,361.8 285.2,371.2 285.5,362.8 285.8,369.7 286.0,362.9 286.2,367.8 286.5,362.9 286.8,369.8 287.0,362.1 287.2,370.6 287.5,362.9 287.8,367.4 288.0,362.0 288.2,368.6 288.5,362.4 288.8,369.2 289.0,362.4 289.2,367.3 289.5,362.5 289.8,371.4 290.0,362.2 290.2,370.6 290.5,362.3 290.8,370.3 291.0,362.5 291.2,367.7 291.5,363.0 291.8,368.7 292.0,363.2 292.2,368.1 292.5,363.3 292.8,370.9 293.0,363.8 293.2,368.4 293.5,363.8 293.8,368.9 294.0,362.8 294.2,369.8 294.5,362.9 294.8,373.8 295.0,363.1 295.2,373.0 295.5,363.2 295.8,370.8 296.0,364.0 296.2,378.3 296.5,363.3 296.8,368.6 297.0,362.8 297.2,374.5 297.5,364.0 297.8,368.8 298.0,363.8 298.2,370.9 298.5,363.3 298.8,370.9 299.0,363.4 299.2,372.0 299.5,364.0 299.8,373.0 300.0,363.4 300.2,368.5 300.5,364.0 300.8,370.0 301.0,364.2 301.2,368.2 301.5,364.1 301.8,380.6 302.0,363.6 302.2,370.4 302.5,363.5 302.8,371.6 303.0,363.7 303.2,369.3 303.5,364.0 303.8,368.4 304.0,363.3 304.2,368.1 304.5,364.0 304.8,370.1 305.0,363.5 305.2,370.5 305.5,363.4 305.8,373.9 306.0,364.0 306.2,379.8 306.5,362.9 306.8,371.2 307.0,363.4 307.2,369.4 307.5,363.5 307.8,376.6 308.0,363.1 308.2,371.8 308.5,363.6 308.8,375.1 309.0,363.5 309.2,368.9 309.5,363.7 309.8,370.3 310.0,363.1"/>
<polyline fill="none" stroke="#0000f0" stroke-width="0.58" clip-path="url(#cL2)" points="105.0,359.9 105.2,361.0 105.5,362.1 105.8,363.2 106.0,364.1 106.2,364.9 106.5,365.6 106.8,366.4 107.0,366.9 107.2,367.4 107.5,367.9 107.8,368.4 108.0,368.9 108.2,369.4 108.5,369.9 108.8,370.2 109.0,370.5 109.2,370.8 109.5,371.1 109.8,371.4 110.0,371.7 110.2,372.0 110.5,372.3 110.8,372.6 111.0,372.9 111.2,373.1 111.5,373.3 111.8,373.5 112.0,373.7 112.2,373.9 112.5,374.1 112.8,374.3 113.0,374.5 113.2,374.7 113.5,374.9 113.8,375.1 114.0,375.3 114.2,375.4 114.5,375.5 114.8,375.7 115.0,375.8 115.2,375.9 115.5,376.1 115.8,376.2 116.0,376.3 116.2,376.5 116.5,376.6 116.8,376.8 117.0,376.9 117.2,377.1 117.5,377.3 117.8,377.5 118.0,377.6 118.2,378.0 118.5,377.9 118.8,378.2 119.0,378.3 119.2,378.8 119.5,378.4 119.8,378.9 120.0,378.6 120.2,379.6 120.5,378.8 120.8,379.8 121.0,378.9 121.2,379.7 121.5,379.0 121.8,379.7 122.0,379.3 122.2,379.9 122.5,379.4 122.8,380.2 123.0,379.5 123.2,381.5 123.5,379.7 123.8,380.9 124.0,379.9 124.2,382.3 124.5,379.9 124.8,381.2 125.0,380.1 125.2,381.0 125.5,379.9 125.8,381.1 126.0,380.0 126.2,381.4 126.5,380.0 126.8,381.2 127.0,380.1 127.2,381.8 127.5,380.3 127.8,381.2 128.0,380.2 128.2,381.8 128.5,380.3 128.8,384.0 129.0,380.2 129.2,382.2 129.5,380.1 129.8,382.9 130.0,380.2 130.2,382.7 130.5,380.4 130.8,383.0 131.0,380.6 131.2,382.4 131.5,380.2 131.8,382.0 132.0,380.3 132.2,385.1 132.5,380.2 132.8,384.8 133.0,380.0 133.2,382.2 133.5,380.2 133.8,382.1 134.0,379.9 134.2,383.2 134.5,379.8 134.8,381.8 135.0,379.6 135.2,382.3 135.5,379.5 135.8,384.8 136.0,379.4 136.2,383.6 136.5,379.3 136.8,382.1 137.0,379.0 137.2,381.7 137.5,378.7 137.8,381.0 138.0,378.6 138.2,384.4 138.5,378.0 138.8,381.4 139.0,378.1 139.2,382.5 139.5,377.4 139.8,379.7 140.0,377.1 140.2,380.2 140.5,376.7 140.8,379.9 141.0,376.7 141.2,380.2 141.5,375.9 141.8,379.5 142.0,376.3 142.2,379.3 142.5,376.0 142.8,378.5 143.0,375.1 143.2,380.2 143.5,374.7 143.8,383.7 144.0,374.3 144.2,380.5 144.5,374.1 144.8,377.1 145.0,373.7 145.2,377.7 145.5,373.6 145.8,382.9 146.0,373.4 146.2,376.1 146.5,373.2 146.8,377.9 147.0,372.3 147.2,377.3 147.5,372.6 147.8,377.7 148.0,372.4 148.2,381.3 148.5,372.1 148.8,375.4 149.0,371.4 149.2,377.9 149.5,371.4 149.8,374.5 150.0,371.2 150.2,374.3 150.5,371.5 150.8,378.5 151.0,370.9 151.2,379.2 151.5,371.2 151.8,374.7 152.0,371.1 152.2,376.6 152.5,371.1 152.8,374.5 153.0,371.1 153.2,374.8 153.5,370.9 153.8,374.7 154.0,371.0 154.2,375.3 154.5,371.3 154.8,375.3 155.0,370.7 155.2,375.0 155.5,371.3 155.8,379.0 156.0,371.1 156.2,375.6 156.5,371.2 156.8,376.1 157.0,371.1 157.2,380.2 157.5,370.7 157.8,377.5 158.0,371.1 158.2,374.9 158.5,370.6 158.8,375.7 159.0,370.9 159.2,375.4 159.5,370.5 159.8,379.0 160.0,370.2 160.2,379.2 160.5,370.5 160.8,377.2 161.0,370.2 161.2,374.2 161.5,370.7 161.8,378.0 162.0,370.5 162.2,379.0 162.5,370.7 162.8,374.9 163.0,370.5 163.2,373.9 163.5,369.9 163.8,377.0 164.0,370.3 164.2,374.3 164.5,370.1 164.8,372.7 165.0,369.5 165.2,378.5 165.5,370.1 165.8,378.5 166.0,369.3 166.2,373.5 166.5,370.0 166.8,372.1 167.0,369.8 167.2,374.5 167.5,369.7 167.8,375.1 168.0,368.9 168.2,372.3 168.5,368.7 168.8,374.1 169.0,368.8 169.2,377.7 169.5,369.0 169.8,371.6 170.0,368.8 170.2,376.5 170.5,368.8 170.8,373.1 171.0,368.0 171.2,371.8 171.5,367.9 171.8,372.4 172.0,368.5 172.2,370.8 172.5,368.2 172.8,375.0 173.0,367.7 173.2,375.2 173.5,368.1 173.8,371.0 174.0,367.9 174.2,376.2 174.5,368.0 174.8,372.4 175.0,367.9 175.2,371.9 175.5,367.6 175.8,371.8 176.0,367.7 176.2,374.8 176.5,367.4 176.8,372.3 177.0,367.2 177.2,372.7 177.5,367.1 177.8,372.2 178.0,367.1 178.2,376.8 178.5,367.6 178.8,371.6 179.0,367.0 179.2,371.4 179.5,367.3 179.8,370.9 180.0,367.5 180.2,376.1 180.5,367.0 180.8,375.7 181.0,367.0 181.2,371.0 181.5,366.7 181.8,371.2 182.0,367.4 182.2,375.4 182.5,367.0 182.8,369.9 183.0,367.0 183.2,370.1 183.5,366.6 183.8,374.2 184.0,367.1 184.2,371.2 184.5,366.5 184.8,374.9 185.0,366.4 185.2,369.6 185.5,366.4 185.8,369.3 186.0,366.3 186.2,370.3 186.5,366.2 186.8,371.7 187.0,366.2 187.2,369.9 187.5,366.6 187.8,369.8 188.0,365.9 188.2,372.1 188.5,366.2 188.8,371.3 189.0,365.8 189.2,370.2 189.5,366.4 189.8,370.6 190.0,365.9 190.2,369.5 190.5,366.2 190.8,374.3 191.0,365.9 191.2,370.1 191.5,365.5 191.8,370.7 192.0,365.3 192.2,374.6 192.5,365.5 192.8,368.3 193.0,366.0 193.2,369.6 193.5,365.8 193.8,374.7 194.0,365.0 194.2,370.8 194.5,365.1 194.8,369.2 195.0,365.3 195.2,369.4 195.5,365.7 195.8,371.9 196.0,365.0 196.2,368.0 196.5,364.9 196.8,369.9 197.0,365.3 197.2,368.7 197.5,364.7 197.8,369.3 198.0,364.5 198.2,369.4 198.5,364.9 198.8,374.2 199.0,364.6 199.2,367.4 199.5,365.0 199.8,369.3 200.0,364.4 200.2,368.1 200.5,364.5 200.8,369.6 201.0,364.7 201.2,368.5 201.5,364.3 201.8,368.2 202.0,364.2 202.2,368.2 202.5,364.2 202.8,367.2 203.0,363.9 203.2,368.4 203.5,363.5 203.8,368.2 204.0,363.8 204.2,372.0 204.5,363.0 204.8,368.1 205.0,362.6 205.2,368.0 205.5,363.0 205.8,369.1 206.0,362.1 206.2,369.3 206.5,362.0 206.8,365.8 207.0,362.3 207.2,366.0 207.5,361.6 207.8,370.7 208.0,362.0 208.2,365.4 208.5,361.0 208.8,367.4 209.0,361.2 209.2,365.0 209.5,360.5 209.8,364.7 210.0,360.3 210.2,367.3 210.5,359.8 210.8,369.5 211.0,360.0 211.2,366.5 211.5,359.8 211.8,369.0 212.0,359.9 212.2,363.7 212.5,359.2 212.8,362.6 213.0,359.8 213.2,362.4 213.5,359.3 213.8,365.3 214.0,358.9 214.2,364.0 214.5,358.9 214.8,363.5 215.0,359.1 215.2,364.3 215.5,359.3 215.8,364.1 216.0,359.3 216.2,366.8 216.5,358.9 216.8,364.7 217.0,358.9 217.2,366.4 217.5,358.5 217.8,365.1 218.0,358.5 218.2,363.7 218.5,358.3 218.8,366.4 219.0,359.0 219.2,367.7 219.5,359.1 219.8,364.3 220.0,358.6 220.2,363.6 220.5,358.4 220.8,364.4 221.0,359.0 221.2,363.5 221.5,358.6 221.8,363.6 222.0,359.0 222.2,362.6 222.5,359.1 222.8,362.2 223.0,358.9 223.2,362.0 223.5,358.9 223.8,362.6 224.0,358.5 224.2,362.4 224.5,358.5 224.8,363.1 225.0,358.4 225.2,365.5 225.5,358.3 225.8,364.5 226.0,359.0 226.2,363.1 226.5,358.4 226.8,362.9 227.0,359.3 227.2,362.4 227.5,359.1 227.8,361.7 228.0,359.3 228.2,367.8 228.5,358.9 228.8,362.1 229.0,359.0 229.2,364.4 229.5,359.8 229.8,365.1 230.0,359.1 230.2,368.0 230.5,359.2 230.8,362.9 231.0,359.8 231.2,364.8 231.5,359.4 231.8,364.4 232.0,359.7 232.2,367.1 232.5,360.2 232.8,366.7 233.0,359.7 233.2,363.0 233.5,360.2 233.8,364.1 234.0,360.3 234.2,367.2 234.5,360.5 234.8,368.2 235.0,360.9 235.2,366.0 235.5,361.2 235.8,367.1 236.0,361.2 236.2,364.8 236.5,361.8 236.8,365.2 237.0,362.1 237.2,369.2 237.5,362.3 237.8,367.3 238.0,362.5 238.2,369.8 238.5,362.9 238.8,366.0 239.0,362.9 239.2,365.9 239.5,363.5 239.8,372.7 240.0,363.9 240.2,367.1 240.5,363.7 240.8,367.9 241.0,364.1 241.2,371.3 241.5,363.4 241.8,367.1 242.0,363.6 242.2,369.2 242.5,363.9 242.8,368.0 243.0,364.0 243.2,369.0 243.5,363.7 243.8,366.7 244.0,363.6 244.2,367.3 244.5,364.1 244.8,368.6 245.0,363.4 245.2,373.0 245.5,363.9 245.8,367.2 246.0,364.1 246.2,368.2 246.5,364.1 246.8,366.9 247.0,363.5 247.2,366.9 247.5,363.4 247.8,367.6 248.0,363.3 248.2,368.5 248.5,363.5 248.8,368.2 249.0,363.2 249.2,368.7 249.5,362.9 249.8,366.1 250.0,362.7 250.2,366.3 250.5,363.0 250.8,369.5 251.0,362.8 251.2,371.1 251.5,362.9 251.8,367.8 252.0,362.3 252.2,366.3 252.5,362.5 252.8,365.3 253.0,362.1 253.2,371.6 253.5,362.1 253.8,366.5 254.0,362.2 254.2,365.9 254.5,362.1 254.8,367.1 255.0,361.9 255.2,365.6 255.5,362.3 255.8,365.1 256.0,361.6 256.2,365.6 256.5,361.4 256.8,364.6 257.0,361.5 257.2,366.1 257.5,361.3 257.8,366.7 258.0,361.2 258.2,364.5 258.5,361.2 258.8,366.9 259.0,361.4 259.2,364.8 259.5,361.5 259.8,366.3 260.0,361.1 260.2,366.8 260.5,361.4 260.8,364.7 261.0,361.5 261.2,365.0 261.5,361.0 261.8,368.6 262.0,361.4 262.2,369.9 262.5,361.0 262.8,368.2 263.0,360.9 263.2,364.5 263.5,361.1 263.8,367.1 264.0,361.2 264.2,369.9 264.5,360.8 264.8,367.1 265.0,360.5 265.2,365.1 265.5,360.1 265.8,364.9 266.0,360.7 266.2,363.6 266.5,360.4 266.8,363.1 267.0,360.1 267.2,363.4 267.5,360.3 267.8,364.8 268.0,359.9 268.2,367.3 268.5,360.3 268.8,363.5 269.0,360.0 269.2,364.1 269.5,359.5 269.8,362.5 270.0,359.4 270.2,362.3 270.5,359.6 270.8,366.8 271.0,359.3 271.2,362.7 271.5,359.6 271.8,364.3 272.0,359.4 272.2,364.6 272.5,359.1 272.8,363.4 273.0,358.8 273.2,363.9 273.5,359.1 273.8,361.6 274.0,358.9 274.2,366.7 274.5,358.4 274.8,365.1 275.0,358.0 275.2,362.5 275.5,358.4 275.8,360.9 276.0,357.7 276.2,365.4 276.5,358.1 276.8,360.9 277.0,358.1 277.2,366.9 277.5,357.2 277.8,361.4 278.0,357.5 278.2,361.2 278.5,357.1 278.8,360.3 279.0,357.7 279.2,360.7 279.5,357.0 279.8,361.0 280.0,357.4 280.2,360.2 280.5,356.7 280.8,360.8 281.0,356.9 281.2,360.0 281.5,356.7 281.8,360.2 282.0,356.4 282.2,360.5 282.5,356.9 282.8,365.8 283.0,356.8 283.2,359.0 283.5,356.4 283.8,360.9 284.0,356.5 284.2,360.4 284.5,356.0 284.8,363.2 285.0,356.3 285.2,359.0 285.5,356.3 285.8,362.7 286.0,356.3 286.2,359.0 286.5,356.0 286.8,359.7 287.0,355.8 287.2,360.0 287.5,356.2 287.8,364.2 288.0,355.6 288.2,361.0 288.5,356.0 288.8,360.1 289.0,355.2 289.2,363.1 289.5,355.3 289.8,362.3 290.0,356.1 290.2,360.5 290.5,355.5 290.8,360.4 291.0,355.9 291.2,364.1 291.5,356.1 291.8,364.6 292.0,356.3 292.2,361.3 292.5,355.8 292.8,359.7 293.0,355.9 293.2,364.5 293.5,356.2 293.8,360.6 294.0,356.5 294.2,360.8 294.5,356.2 294.8,361.0 295.0,356.5 295.2,359.8 295.5,356.4 295.8,361.6 296.0,356.8 296.2,360.5 296.5,356.9 296.8,360.4 297.0,356.6 297.2,363.8 297.5,356.7 297.8,361.6 298.0,357.0 298.2,362.2 298.5,356.7 298.8,359.7 299.0,357.2 299.2,360.2 299.5,357.1 299.8,364.3 300.0,357.0 300.2,359.8 300.5,356.9 300.8,364.9 301.0,357.4 301.2,361.0 301.5,357.3 301.8,361.3 302.0,357.2 302.2,362.0 302.5,357.8 302.8,363.4 303.0,357.2 303.2,360.1 303.5,357.3 303.8,361.1 304.0,357.3 304.2,361.5 304.5,358.2 304.8,360.7 305.0,357.6 305.2,360.7 305.5,357.8 305.8,363.2 306.0,358.1 306.2,362.5 306.5,358.3 306.8,366.5 307.0,358.6 307.2,363.3 307.5,358.4 307.8,361.7 308.0,358.7 308.2,363.4 308.5,358.7 308.8,361.9 309.0,359.1 309.2,367.8 309.5,358.9 309.8,361.6 310.0,358.8"/>
<polyline fill="none" stroke="#f00000" stroke-width="0.58" clip-path="url(#cL3)" points="105.0,556.6 105.2,557.6 105.5,558.6 105.8,559.7 106.0,560.5 106.2,561.2 106.5,561.9 106.8,562.6 107.0,563.0 107.2,563.5 107.5,563.9 107.8,564.4 108.0,564.8 108.2,565.3 108.5,565.8 108.8,566.0 109.0,566.3 109.2,566.6 109.5,566.8 109.8,567.1 110.0,567.4 110.2,567.7 110.5,567.9 110.8,568.2 111.0,568.5 111.2,568.7 111.5,568.9 111.8,569.1 112.0,569.3 112.2,569.5 112.5,569.6 112.8,569.8 113.0,570.0 113.2,570.2 113.5,570.4 113.8,570.6 114.0,570.7 114.2,570.8 114.5,570.9 114.8,571.0 115.0,571.2 115.2,571.3 115.5,571.4 115.8,571.5 116.0,571.6 116.2,571.8 116.5,571.9 116.8,572.0 117.0,572.1 117.2,572.2 117.5,572.3 117.8,572.4 118.0,572.5 118.2,572.9 118.5,572.7 118.8,573.1 119.0,572.9 119.2,573.2 119.5,572.9 119.8,573.4 120.0,572.9 120.2,573.4 120.5,572.9 120.8,573.9 121.0,572.8 121.2,574.9 121.5,572.8 121.8,574.8 122.0,572.8 122.2,575.2 122.5,572.7 122.8,573.9 123.0,572.8 123.2,573.9 123.5,572.8 123.8,573.9 124.0,572.8 124.2,574.3 124.5,572.6 124.8,574.1 125.0,572.4 125.2,573.9 125.5,572.3 125.8,574.8 126.0,572.1 126.2,573.4 126.5,571.9 126.8,573.9 127.0,571.8 127.2,573.5 127.5,571.7 127.8,573.2 128.0,571.5 128.2,577.0 128.5,571.3 128.8,573.2 129.0,571.3 129.2,573.4 129.5,571.3 129.8,573.7 130.0,570.8 130.2,573.1 130.5,570.8 130.8,574.2 131.0,570.5 131.2,574.3 131.5,570.6 131.8,578.4 132.0,570.3 132.2,574.1 132.5,570.4 132.8,572.4 133.0,570.2 133.2,572.4 133.5,569.8 133.8,572.0 134.0,569.7 134.2,573.1 134.5,569.5 134.8,579.6 135.0,569.2 135.2,573.3 135.5,568.9 135.8,572.2 136.0,569.3 136.2,573.9 136.5,569.1 136.8,572.6 137.0,568.6 137.2,571.4 137.5,568.3 137.8,573.5 138.0,568.5 138.2,572.7 138.5,568.4 138.8,573.8 139.0,567.7 139.2,572.7 139.5,568.1 139.8,573.0 140.0,568.1 140.2,571.4 140.5,567.2 140.8,572.3 141.0,567.4 141.2,571.0 141.5,567.1 141.8,576.0 142.0,567.4 142.2,574.7 142.5,567.3 142.8,570.5 143.0,567.0 143.2,572.7 143.5,566.9 143.8,571.0 144.0,566.7 144.2,572.6 144.5,566.1 144.8,572.4 145.0,566.1 145.2,571.4 145.5,566.3 145.8,571.3 146.0,566.2 146.2,570.0 146.5,565.8 146.8,579.9 147.0,565.4 147.2,571.1 147.5,565.4 147.8,571.8 148.0,565.9 148.2,570.9 148.5,566.4 148.8,579.9 149.0,565.8 149.2,570.1 149.5,566.1 149.8,573.3 150.0,566.4 150.2,571.9 150.5,566.8 150.8,571.5 151.0,567.0 151.2,571.5 151.5,567.0 151.8,571.8 152.0,566.3 152.2,573.5 152.5,566.4 152.8,580.4 153.0,566.4 153.2,571.1 153.5,566.6 153.8,570.6 154.0,566.9 154.2,573.0 154.5,566.9 154.8,580.7 155.0,567.0 155.2,578.8 155.5,566.4 155.8,573.0 156.0,566.6 156.2,570.7 156.5,567.0 156.8,573.3 157.0,566.3 157.2,570.6 157.5,566.7 157.8,581.3 158.0,566.3 158.2,571.9 158.5,566.5 158.8,579.2 159.0,566.9 159.2,573.3 159.5,566.3 159.8,577.4 160.0,566.8 160.2,572.2 160.5,566.0 160.8,569.9 161.0,565.9 161.2,570.7 161.5,565.9 161.8,572.6 162.0,566.5 162.2,571.2 162.5,565.9 162.8,571.2 163.0,565.9 163.2,571.6 163.5,566.4 163.8,573.0 164.0,565.7 164.2,571.4 164.5,566.1 164.8,570.3 165.0,565.7 165.2,580.9 165.5,565.5 165.8,578.2 166.0,565.5 166.2,575.0 166.5,565.4 166.8,578.9 167.0,565.7 167.2,572.4 167.5,565.6 167.8,580.7 168.0,565.3 168.2,572.0 168.5,565.0 168.8,570.5 169.0,565.4 169.2,570.5 169.5,565.1 169.8,579.8 170.0,565.2 170.2,571.1 170.5,565.6 170.8,572.1 171.0,565.2 171.2,569.8 171.5,564.8 171.8,568.8 172.0,565.5 172.2,570.3 172.5,565.0 172.8,570.7 173.0,565.5 173.2,575.3 173.5,565.1 173.8,570.5 174.0,565.3 174.2,570.4 174.5,565.3 174.8,569.9 175.0,565.7 175.2,576.9 175.5,565.6 175.8,571.8 176.0,565.6 176.2,572.6 176.5,566.0 176.8,570.9 177.0,565.6 177.2,571.0 177.5,566.0 177.8,570.7 178.0,565.4 178.2,570.5 178.5,565.9 178.8,572.4 179.0,566.2 179.2,570.2 179.5,566.1 179.8,576.4 180.0,566.1 180.2,571.4 180.5,566.0 180.8,573.2 181.0,565.4 181.2,569.3 181.5,565.4 181.8,569.8 182.0,565.8 182.2,573.4 182.5,565.8 182.8,574.4 183.0,565.3 183.2,570.1 183.5,565.4 183.8,571.1 184.0,565.5 184.2,576.9 184.5,564.8 184.8,568.8 185.0,564.8 185.2,570.9 185.5,564.7 185.8,569.0 186.0,564.9 186.2,578.2 186.5,565.3 186.8,569.7 187.0,564.7 187.2,571.4 187.5,565.3 187.8,571.6 188.0,565.0 188.2,570.2 188.5,565.0 188.8,569.3 189.0,564.7 189.2,577.4 189.5,564.5 189.8,578.4 190.0,564.6 190.2,571.5 190.5,564.9 190.8,570.0 191.0,564.1 191.2,571.6 191.5,564.4 191.8,568.0 192.0,564.0 192.2,572.1 192.5,564.5 192.8,570.7 193.0,564.6 193.2,569.6 193.5,564.4 193.8,568.8 194.0,565.2 194.2,570.0 194.5,565.5 194.8,572.0 195.0,565.6 195.2,571.3 195.5,565.8 195.8,573.0 196.0,565.9 196.2,570.4 196.5,566.5 196.8,572.1 197.0,566.0 197.2,571.4 197.5,566.4 197.8,570.5 198.0,567.1 198.2,581.6 198.5,567.3 198.8,579.0 199.0,568.1 199.2,573.0 199.5,568.5 199.8,580.7 200.0,569.0 200.2,576.1 200.5,570.0 200.8,581.3 201.0,570.1 201.2,577.0 201.5,570.0 201.8,577.1 202.0,569.7 202.2,575.6 202.5,569.0 202.8,581.4 203.0,568.8 203.2,577.4 203.5,568.2 203.8,572.2 204.0,567.9 204.2,572.0 204.5,567.1 204.8,570.8 205.0,566.6 205.2,570.2 205.5,565.9 205.8,576.1 206.0,564.9 206.2,571.4 206.5,564.9 206.8,568.7 207.0,564.2 207.2,569.8 207.5,563.2 207.8,567.9 208.0,563.0 208.2,568.7 208.5,561.6 208.8,565.9 209.0,561.1 209.2,566.8 209.5,560.6 209.8,575.1 210.0,559.5 210.2,563.5 210.5,558.8 210.8,573.8 211.0,558.0 211.2,563.7 211.5,558.0 211.8,561.3 212.0,557.3 212.2,564.8 212.5,556.1 212.8,561.6 213.0,555.7 213.2,566.3 213.5,554.7 213.8,560.1 214.0,554.3 214.2,557.7 214.5,553.1 214.8,566.3 215.0,552.5 215.2,557.1 215.5,551.7 215.8,557.2 216.0,552.1 216.2,556.8 216.5,551.4 216.8,561.5 217.0,551.3 217.2,555.0 217.5,550.8 217.8,556.6 218.0,550.5 218.2,562.5 218.5,550.2 218.8,556.5 219.0,550.4 219.2,555.9 219.5,551.1 219.8,558.7 220.0,551.0 220.2,557.2 220.5,551.1 220.8,556.2 221.0,552.1 221.2,558.3 221.5,551.7 221.8,559.7 222.0,552.4 222.2,561.0 222.5,552.4 222.8,558.4 223.0,553.3 223.2,563.3 223.5,553.8 223.8,561.4 224.0,555.1 224.2,567.4 224.5,555.8 224.8,562.3 225.0,555.8 225.2,562.8 225.5,556.8 225.8,572.4 226.0,557.8 226.2,571.1 226.5,558.0 226.8,564.7 227.0,559.0 227.2,565.8 227.5,559.6 227.8,568.4 228.0,559.9 228.2,564.1 228.5,560.9 228.8,564.4 229.0,561.2 229.2,565.4 229.5,561.2 229.8,569.7 230.0,561.2 230.2,566.0 230.5,561.6 230.8,571.6 231.0,562.6 231.2,571.1 231.5,562.2 231.8,566.6 232.0,563.2 232.2,567.6 232.5,563.2 232.8,568.7 233.0,563.4 233.2,570.9 233.5,563.7 233.8,567.8 234.0,564.5 234.2,571.6 234.5,564.2 234.8,575.3 235.0,564.8 235.2,568.9 235.5,564.6 235.8,573.0 236.0,565.4 236.2,569.4 236.5,565.0 236.8,576.2 237.0,565.1 237.2,569.7 237.5,565.6 237.8,571.8 238.0,565.2 238.2,572.1 238.5,565.3 238.8,569.6 239.0,565.4 239.2,580.1 239.5,565.5 239.8,571.6 240.0,566.0 240.2,571.8 240.5,565.7 240.8,570.3 241.0,566.5 241.2,578.9 241.5,566.3 241.8,571.9 242.0,566.2 242.2,572.2 242.5,566.7 242.8,570.4 243.0,566.8 243.2,573.6 243.5,566.6 243.8,578.1 244.0,566.7 244.2,571.6 244.5,566.8 244.8,573.2 245.0,566.6 245.2,570.3 245.5,567.0 245.8,581.2 246.0,566.9 246.2,571.8 246.5,567.0 246.8,575.4 247.0,567.0 247.2,578.4 247.5,567.0 247.8,573.0 248.0,566.7 248.2,571.8 248.5,566.9 248.8,574.0 249.0,567.6 249.2,574.1 249.5,567.6 249.8,580.8 250.0,568.2 250.2,572.6 250.5,568.1 250.8,577.5 251.0,568.1 251.2,574.8 251.5,568.7 251.8,575.0 252.0,569.0 252.2,580.4 252.5,569.3 252.8,573.8 253.0,569.7 253.2,574.1 253.5,569.6 253.8,577.2 254.0,570.4 254.2,576.5 254.5,570.4 254.8,575.8 255.0,571.1 255.2,586.3 255.5,570.7 255.8,576.8 256.0,571.5 256.2,577.5 256.5,571.3 256.8,575.8 257.0,570.8 257.2,575.5 257.5,571.1 257.8,578.3 258.0,570.9 258.2,575.6 258.5,571.2 258.8,577.2 259.0,571.1 259.2,575.3 259.5,571.4 259.8,577.8 260.0,570.9 260.2,575.1 260.5,571.0 260.8,575.3 261.0,571.1 261.2,577.1 261.5,571.0 261.8,579.3 262.0,571.4 262.2,583.0 262.5,570.9 262.8,575.0 263.0,571.0 263.2,576.3 263.5,570.6 263.8,577.8 264.0,570.4 264.2,580.0 264.5,570.2 264.8,573.9 265.0,569.8 265.2,575.3 265.5,569.7 265.8,574.8 266.0,570.1 266.2,581.1 266.5,569.5 266.8,585.1 267.0,570.6 267.2,575.9 267.5,570.8 267.8,579.7 268.0,570.9 268.2,581.9 268.5,571.6 268.8,582.0 269.0,572.3 269.2,576.8 269.5,572.6 269.8,585.1 270.0,573.1 270.2,587.4 270.5,573.5 270.8,578.2 271.0,573.6 271.2,580.4 271.5,574.1 271.8,578.7 272.0,574.7 272.2,579.5 272.5,575.0 272.8,582.5 273.0,575.6 273.2,581.1 273.5,576.1 273.8,583.1 274.0,576.4 274.2,583.2 274.5,576.9 274.8,580.9 275.0,577.4 275.2,582.2 275.5,577.2 275.8,584.9 276.0,578.2 276.2,584.8 276.5,578.0 276.8,584.1 277.0,579.2 277.2,589.0 277.5,579.0 277.8,584.6 278.0,579.3 278.2,583.5 278.5,580.1 278.8,584.7 279.0,580.0 279.2,586.7 279.5,580.3 279.8,587.3 280.0,580.3 280.2,587.1 280.5,580.3 280.8,586.4 281.0,580.7 281.2,585.6 281.5,580.5 281.8,586.9 282.0,580.8 282.2,588.6 282.5,580.9 282.8,587.6 283.0,581.2 283.2,587.8 283.5,581.4 283.8,586.7 284.0,581.1 284.2,592.5 284.5,581.1 284.8,588.5 285.0,581.2 285.2,590.3 285.5,581.9 285.8,587.9 286.0,581.6 286.2,587.6 286.5,580.5 286.8,593.4 287.0,580.3 287.2,591.6 287.5,580.3 287.8,585.4 288.0,579.9 288.2,590.9 288.5,578.9 288.8,587.3 289.0,578.6 289.2,582.3 289.5,578.5 289.8,585.6 290.0,578.5 290.2,584.6 290.5,577.9 290.8,583.9 291.0,577.1 291.2,590.3 291.5,577.8 291.8,587.8 292.0,577.4 292.2,583.4 292.5,576.8 292.8,589.9 293.0,577.3 293.2,583.5 293.5,577.2 293.8,586.6 294.0,576.5 294.2,590.0 294.5,576.9 294.8,580.8 295.0,577.4 295.2,582.5 295.5,578.1 295.8,584.6 296.0,578.2 296.2,584.9 296.5,578.8 296.8,586.0 297.0,579.1 297.2,584.3 297.5,579.8 297.8,586.8 298.0,580.4 298.2,586.1 298.5,580.8 298.8,587.8 299.0,580.7 299.2,596.5 299.5,581.7 299.8,591.4 300.0,581.6 300.2,586.2 300.5,582.5 300.8,593.5 301.0,582.3 301.2,587.4 301.5,583.1 301.8,592.3 302.0,583.3 302.2,590.8 302.5,583.6 302.8,587.8 303.0,584.1 303.2,590.6 303.5,584.8 303.8,590.0 304.0,584.6 304.2,591.1 304.5,585.3 304.8,594.9 305.0,585.9 305.2,597.9 305.5,586.1 305.8,590.9 306.0,586.2 306.2,595.6 306.5,586.4 306.8,597.8 307.0,586.7 307.2,594.2 307.5,587.0 307.8,593.9 308.0,586.6 308.2,592.7 308.5,587.2 308.8,597.5 309.0,587.1 309.2,600.5 309.5,587.2 309.8,601.4 310.0,588.1"/>
<polyline fill="none" stroke="#00c000" stroke-width="0.58" clip-path="url(#cL3)" points="105.0,556.6 105.2,557.6 105.5,558.6 105.8,559.7 106.0,560.5 106.2,561.2 106.5,561.9 106.8,562.6 107.0,563.0 107.2,563.5 107.5,563.9 107.8,564.4 108.0,564.8 108.2,565.3 108.5,565.8 108.8,566.0 109.0,566.3 109.2,566.6 109.5,566.8 109.8,567.1 110.0,567.4 110.2,567.7 110.5,567.9 110.8,568.2 111.0,568.5 111.2,568.7 111.5,568.9 111.8,569.1 112.0,569.3 112.2,569.5 112.5,569.6 112.8,569.8 113.0,570.0 113.2,570.2 113.5,570.4 113.8,570.6 114.0,570.7 114.2,570.8 114.5,570.9 114.8,571.0 115.0,571.2 115.2,571.3 115.5,571.4 115.8,571.5 116.0,571.6 116.2,571.8 116.5,571.9 116.8,572.0 117.0,572.1 117.2,572.2 117.5,572.3 117.8,572.4 118.0,572.5 118.2,572.7 118.5,572.7 118.8,573.1 119.0,573.0 119.2,573.2 119.5,572.9 119.8,573.7 120.0,572.9 120.2,573.9 120.5,573.0 120.8,573.9 121.0,572.9 121.2,573.4 121.5,573.0 121.8,573.4 122.0,573.0 122.2,573.8 122.5,572.9 122.8,573.7 123.0,572.9 123.2,574.0 123.5,572.9 123.8,574.2 124.0,573.1 124.2,574.5 124.5,573.0 124.8,573.7 125.0,572.9 125.2,574.1 125.5,572.7 125.8,573.8 126.0,572.5 126.2,573.6 126.5,572.3 126.8,573.5 127.0,572.2 127.2,573.2 127.5,572.0 127.8,574.1 128.0,571.9 128.2,573.1 128.5,571.8 128.8,573.5 129.0,571.6 129.2,574.0 129.5,571.7 129.8,572.8 130.0,571.3 130.2,574.3 130.5,571.3 130.8,572.8 131.0,571.3 131.2,573.5 131.5,571.2 131.8,573.7 132.0,571.0 132.2,572.2 132.5,570.7 132.8,572.1 133.0,570.5 133.2,571.9 133.5,570.2 133.8,572.9 134.0,569.6 134.2,571.6 134.5,569.4 134.8,572.2 135.0,569.2 135.2,572.3 135.5,569.1 135.8,572.2 136.0,568.9 136.2,571.0 136.5,569.0 136.8,572.5 137.0,568.5 137.2,570.8 137.5,568.3 137.8,574.0 138.0,568.1 138.2,570.5 138.5,567.6 138.8,570.2 139.0,567.4 139.2,570.7 139.5,567.7 139.8,575.4 140.0,567.1 140.2,572.7 140.5,567.2 140.8,573.3 141.0,566.2 141.2,570.6 141.5,566.5 141.8,569.7 142.0,566.3 142.2,569.6 142.5,565.4 142.8,569.1 143.0,565.4 143.2,570.8 143.5,564.9 143.8,568.4 144.0,565.1 144.2,573.1 144.5,564.2 144.8,569.7 145.0,564.1 145.2,566.9 145.5,564.3 145.8,567.2 146.0,563.8 146.2,568.7 146.5,563.4 146.8,569.7 147.0,562.8 147.2,565.9 147.5,562.9 147.8,565.6 148.0,562.7 148.2,567.7 148.5,562.7 148.8,566.3 149.0,562.1 149.2,564.9 149.5,561.9 149.8,565.7 150.0,561.8 150.2,565.0 150.5,561.2 150.8,564.7 151.0,561.2 151.2,569.7 151.5,560.7 151.8,563.2 152.0,560.2 152.2,564.1 152.5,560.0 152.8,563.9 153.0,560.3 153.2,562.7 153.5,559.5 153.8,564.9 154.0,559.4 154.2,564.5 154.5,559.5 154.8,563.5 155.0,558.9 155.2,562.7 155.5,559.4 155.8,563.5 156.0,559.0 156.2,566.3 156.5,558.8 156.8,562.2 157.0,559.0 157.2,561.2 157.5,558.7 157.8,563.6 158.0,558.2 158.2,563.1 158.5,558.4 158.8,562.8 159.0,559.0 159.2,563.0 159.5,558.8 159.8,563.0 160.0,558.9 160.2,568.1 160.5,559.2 160.8,563.1 161.0,559.3 161.2,564.0 161.5,559.0 161.8,564.2 162.0,559.4 162.2,563.2 162.5,559.2 162.8,562.8 163.0,559.1 163.2,562.6 163.5,559.9 163.8,564.7 164.0,559.7 164.2,564.1 164.5,559.8 164.8,563.4 165.0,560.1 165.2,563.7 165.5,560.3 165.8,570.2 166.0,560.9 166.2,565.7 166.5,560.5 166.8,565.2 167.0,561.4 167.2,565.5 167.5,561.6 167.8,564.3 168.0,561.2 168.2,570.5 168.5,561.7 168.8,565.7 169.0,562.2 169.2,566.8 169.5,561.8 169.8,566.8 170.0,561.8 170.2,565.3 170.5,561.9 170.8,565.5 171.0,562.2 171.2,565.6 171.5,562.6 171.8,565.3 172.0,562.2 172.2,567.5 172.5,562.8 172.8,566.7 173.0,563.1 173.2,569.5 173.5,562.6 173.8,567.9 174.0,562.3 174.2,568.9 174.5,562.7 174.8,565.3 175.0,562.3 175.2,564.8 175.5,561.8 175.8,567.1 176.0,561.7 176.2,566.8 176.5,561.2 176.8,568.4 177.0,561.2 177.2,566.6 177.5,560.9 177.8,565.1 178.0,561.2 178.2,568.8 178.5,560.9 178.8,564.3 179.0,560.5 179.2,564.2 179.5,560.4 179.8,565.6 180.0,560.7 180.2,568.0 180.5,560.1 180.8,563.2 181.0,559.8 181.2,563.0 181.5,559.7 181.8,564.1 182.0,559.3 182.2,563.1 182.5,559.7 182.8,565.1 183.0,559.5 183.2,562.3 183.5,559.1 183.8,567.6 184.0,559.2 184.2,566.6 184.5,559.1 184.8,562.1 185.0,558.9 185.2,564.0 185.5,558.5 185.8,562.5 186.0,558.3 186.2,563.3 186.5,557.8 186.8,560.9 187.0,557.5 187.2,560.4 187.5,557.7 187.8,562.1 188.0,556.9 188.2,561.1 188.5,556.8 188.8,561.4 189.0,556.7 189.2,560.4 189.5,556.8 189.8,562.0 190.0,556.4 190.2,565.6 190.5,556.4 190.8,559.1 191.0,556.2 191.2,563.4 191.5,555.3 191.8,559.3 192.0,555.6 192.2,560.3 192.5,555.4 192.8,560.8 193.0,554.8 193.2,557.6 193.5,554.9 193.8,562.6 194.0,554.9 194.2,558.0 194.5,554.8 194.8,559.1 195.0,554.0 195.2,557.9 195.5,554.1 195.8,559.2 196.0,554.0 196.2,559.4 196.5,553.7 196.8,556.5 197.0,554.0 197.2,559.0 197.5,553.4 197.8,560.3 198.0,553.7 198.2,558.0 198.5,553.3 198.8,556.8 199.0,553.0 199.2,557.2 199.5,552.5 199.8,556.5 200.0,552.4 200.2,560.2 200.5,552.6 200.8,557.8 201.0,552.5 201.2,556.3 201.5,553.0 201.8,557.2 202.0,552.1 202.2,557.8 202.5,552.3 202.8,557.0 203.0,552.5 203.2,555.8 203.5,552.8 203.8,557.4 204.0,552.5 204.2,556.2 204.5,552.1 204.8,557.3 205.0,552.3 205.2,560.3 205.5,552.3 205.8,557.3 206.0,552.5 206.2,559.9 206.5,552.2 206.8,557.2 207.0,552.5 207.2,561.2 207.5,552.1 207.8,554.8 208.0,552.1 208.2,556.7 208.5,551.8 208.8,556.2 209.0,551.9 209.2,555.9 209.5,551.6 209.8,555.1 210.0,552.2 210.2,557.1 210.5,551.7 210.8,556.6 211.0,552.0 211.2,557.0 211.5,552.5 211.8,555.4 212.0,552.5 212.2,560.9 212.5,552.2 212.8,555.9 213.0,552.5 213.2,557.3 213.5,552.1 213.8,557.0 214.0,552.5 214.2,556.0 214.5,552.9 214.8,557.2 215.0,552.6 215.2,556.2 215.5,552.7 215.8,562.2 216.0,552.7 216.2,556.1 216.5,553.0 216.8,562.0 217.0,553.3 217.2,556.1 217.5,553.5 217.8,558.4 218.0,553.3 218.2,557.4 218.5,552.9 218.8,562.1 219.0,553.2 219.2,558.5 219.5,553.2 219.8,557.3 220.0,553.8 220.2,560.4 220.5,553.4 220.8,561.1 221.0,553.7 221.2,556.9 221.5,553.5 221.8,556.9 222.0,553.4 222.2,556.0 222.5,552.9 222.8,556.3 223.0,552.9 223.2,559.3 223.5,552.4 223.8,556.4 224.0,552.1 224.2,555.6 224.5,551.9 224.8,555.1 225.0,552.5 225.2,555.0 225.5,552.2 225.8,556.2 226.0,551.5 226.2,556.6 226.5,551.6 226.8,556.9 227.0,551.8 227.2,555.1 227.5,551.3 227.8,556.5 228.0,551.4 228.2,554.1 228.5,550.8 228.8,557.0 229.0,551.1 229.2,555.2 229.5,551.2 229.8,553.8 230.0,551.4 230.2,560.0 230.5,551.5 230.8,559.4 231.0,550.9 231.2,554.3 231.5,551.4 231.8,556.4 232.0,551.2 232.2,554.6 232.5,551.5 232.8,560.0 233.0,551.5 233.2,559.2 233.5,551.2 233.8,556.6 234.0,551.5 234.2,555.9 234.5,551.8 234.8,556.5 235.0,552.1 235.2,557.8 235.5,553.1 235.8,558.4 236.0,552.9 236.2,558.3 236.5,553.3 236.8,556.9 237.0,553.9 237.2,557.4 237.5,554.0 237.8,558.9 238.0,554.5 238.2,559.1 238.5,554.6 238.8,557.9 239.0,555.1 239.2,564.3 239.5,555.3 239.8,564.4 240.0,555.4 240.2,558.6 240.5,555.7 240.8,559.9 241.0,556.0 241.2,564.9 241.5,556.7 241.8,561.0 242.0,556.9 242.2,564.9 242.5,557.1 242.8,561.7 243.0,557.3 243.2,560.1 243.5,557.2 243.8,562.9 244.0,557.4 244.2,561.0 244.5,557.7 244.8,565.5 245.0,557.5 245.2,562.1 245.5,557.7 245.8,561.4 246.0,557.8 246.2,561.4 246.5,558.5 246.8,561.4 247.0,557.9 247.2,564.1 247.5,557.9 247.8,561.4 248.0,558.7 248.2,561.4 248.5,558.6 248.8,563.0 249.0,558.0 249.2,568.8 249.5,558.5 249.8,563.5 250.0,558.4 250.2,567.2 250.5,558.1 250.8,563.8 251.0,557.8 251.2,561.2 251.5,557.5 251.8,563.8 252.0,558.2 252.2,562.4 252.5,558.1 252.8,563.7 253.0,557.5 253.2,563.4 253.5,557.3 253.8,561.0 254.0,557.9 254.2,561.3 254.5,557.3 254.8,561.1 255.0,557.5 255.2,563.0 255.5,557.7 255.8,561.7 256.0,557.4 256.2,563.2 256.5,557.0 256.8,561.0 257.0,557.3 257.2,561.3 257.5,556.5 257.8,563.5 258.0,556.3 258.2,564.0 258.5,556.1 258.8,560.6 259.0,556.3 259.2,560.6 259.5,556.0 259.8,561.6 260.0,555.9 260.2,569.6 260.5,556.2 260.8,564.5 261.0,555.2 261.2,559.7 261.5,555.8 261.8,563.2 262.0,555.1 262.2,559.5 262.5,555.0 262.8,567.2 263.0,555.5 263.2,560.7 263.5,554.4 263.8,568.0 264.0,555.1 264.2,562.7 264.5,554.0 264.8,563.7 265.0,554.4 265.2,568.2 265.5,554.7 265.8,562.6 266.0,553.6 266.2,560.9 266.5,554.2 266.8,562.3 267.0,553.6 267.2,560.5 267.5,554.2 267.8,568.1 268.0,554.0 268.2,560.2 268.5,554.3 268.8,562.5 269.0,554.1 269.2,558.2 269.5,554.1 269.8,559.6 270.0,553.4 270.2,564.7 270.5,554.1 270.8,564.7 271.0,553.6 271.2,563.4 271.5,553.4 271.8,561.3 272.0,553.6 272.2,559.2 272.5,554.0 272.8,562.0 273.0,554.8 273.2,560.1 273.5,554.0 273.8,558.9 274.0,554.3 274.2,565.6 274.5,555.2 274.8,563.4 275.0,555.3 275.2,563.1 275.5,555.1 275.8,560.4 276.0,554.9 276.2,562.4 276.5,555.5 276.8,562.0 277.0,555.3 277.2,569.4 277.5,556.0 277.8,564.1 278.0,555.3 278.2,560.6 278.5,556.4 278.8,560.4 279.0,556.8 279.2,562.7 279.5,556.5 279.8,565.3 280.0,556.8 280.2,566.4 280.5,556.7 280.8,564.4 281.0,557.3 281.2,561.4 281.5,557.7 281.8,573.1 282.0,557.4 282.2,564.3 282.5,557.4 282.8,565.2 283.0,557.5 283.2,563.9 283.5,557.7 283.8,565.3 284.0,557.8 284.2,562.5 284.5,557.8 284.8,564.5 285.0,559.1 285.2,566.7 285.5,558.4 285.8,566.9 286.0,558.7 286.2,567.0 286.5,558.9 286.8,564.2 287.0,559.3 287.2,567.0 287.5,559.0 287.8,563.9 288.0,559.5 288.2,566.2 288.5,559.2 288.8,565.4 289.0,558.9 289.2,569.8 289.5,558.9 289.8,567.5 290.0,559.9 290.2,567.9 290.5,558.7 290.8,571.6 291.0,559.1 291.2,565.6 291.5,559.1 291.8,575.0 292.0,559.2 292.2,566.0 292.5,559.0 292.8,564.7 293.0,559.3 293.2,571.4 293.5,560.2 293.8,569.5 294.0,559.5 294.2,565.2 294.5,559.7 294.8,568.2 295.0,559.5 295.2,565.1 295.5,560.4 295.8,568.3 296.0,559.3 296.2,575.7 296.5,559.3 296.8,568.3 297.0,559.4 297.2,565.1 297.5,559.8 297.8,574.2 298.0,559.5 298.2,564.7 298.5,560.3 298.8,566.3 299.0,560.4 299.2,567.1 299.5,560.6 299.8,565.9 300.0,560.0 300.2,566.4 300.5,559.6 300.8,564.2 301.0,560.6 301.2,568.4 301.5,560.3 301.8,567.9 302.0,560.0 302.2,570.0 302.5,559.8 302.8,565.7 303.0,560.2 303.2,571.3 303.5,560.3 303.8,568.1 304.0,559.9 304.2,567.0 304.5,560.1 304.8,571.3 305.0,560.2 305.2,566.5 305.5,559.4 305.8,565.5 306.0,559.5 306.2,567.4 306.5,559.4 306.8,575.2 307.0,560.4 307.2,565.7 307.5,559.2 307.8,564.1 308.0,559.4 308.2,564.9 308.5,559.2 308.8,567.8 309.0,559.4 309.2,571.3 309.5,559.0 309.8,566.6 310.0,559.9"/>
<polyline fill="none" stroke="#0000f0" stroke-width="0.58" clip-path="url(#cL3)" points="105.0,556.6 105.2,557.6 105.5,558.6 105.8,559.7 106.0,560.5 106.2,561.2 106.5,561.9 106.8,562.6 107.0,563.0 107.2,563.5 107.5,563.9 107.8,564.4 108.0,564.8 108.2,565.3 108.5,565.8 108.8,566.0 109.0,566.3 109.2,566.6 109.5,566.8 109.8,567.1 110.0,567.4 110.2,567.7 110.5,567.9 110.8,568.2 111.0,568.5 111.2,568.7 111.5,568.9 111.8,569.1 112.0,569.3 112.2,569.5 112.5,569.6 112.8,569.8 113.0,570.0 113.2,570.2 113.5,570.4 113.8,570.6 114.0,570.7 114.2,570.8 114.5,570.9 114.8,571.0 115.0,571.2 115.2,571.3 115.5,571.4 115.8,571.5 116.0,571.6 116.2,571.8 116.5,571.9 116.8,572.1 117.0,572.2 117.2,572.4 117.5,572.5 117.8,572.7 118.0,572.8 118.2,573.0 118.5,573.1 118.8,573.4 119.0,573.4 119.2,573.8 119.5,573.6 119.8,573.9 120.0,573.7 120.2,574.1 120.5,573.9 120.8,574.4 121.0,574.0 121.2,574.6 121.5,574.1 121.8,574.7 122.0,574.3 122.2,575.5 122.5,574.4 122.8,575.2 123.0,574.5 123.2,575.2 123.5,574.7 123.8,575.7 124.0,574.9 124.2,576.1 124.5,575.0 124.8,576.9 125.0,575.0 125.2,576.2 125.5,575.0 125.8,576.3 126.0,575.0 126.2,576.3 126.5,574.9 126.8,576.3 127.0,575.1 127.2,576.6 127.5,575.1 127.8,576.3 128.0,575.3 128.2,576.9 128.5,575.3 128.8,577.7 129.0,575.2 129.2,576.8 129.5,575.3 129.8,577.3 130.0,575.4 130.2,577.6 130.5,575.5 130.8,576.6 131.0,575.4 131.2,579.7 131.5,575.6 131.8,577.1 132.0,575.5 132.2,577.6 132.5,575.1 132.8,579.9 133.0,575.3 133.2,576.7 133.5,575.0 133.8,576.9 134.0,575.1 134.2,578.1 134.5,574.9 134.8,577.4 135.0,574.6 135.2,577.2 135.5,574.6 135.8,579.7 136.0,574.9 136.2,577.0 136.5,574.5 136.8,577.6 137.0,574.2 137.2,577.9 137.5,573.9 137.8,579.4 138.0,573.5 138.2,576.7 138.5,573.4 138.8,576.9 139.0,573.3 139.2,578.3 139.5,572.7 139.8,575.3 140.0,572.3 140.2,575.2 140.5,572.4 140.8,574.5 141.0,572.1 141.2,575.6 141.5,571.7 141.8,576.8 142.0,571.5 142.2,574.6 142.5,571.4 142.8,576.7 143.0,570.6 143.2,573.9 143.5,570.6 143.8,577.6 144.0,570.3 144.2,575.5 144.5,569.7 144.8,573.2 145.0,569.9 145.2,576.6 145.5,569.2 145.8,572.2 146.0,569.1 146.2,571.2 146.5,568.5 146.8,575.5 147.0,568.5 147.2,573.0 147.5,568.3 147.8,570.7 148.0,567.8 148.2,571.4 148.5,567.5 148.8,575.3 149.0,567.4 149.2,574.2 149.5,567.6 149.8,569.7 150.0,567.5 150.2,571.0 150.5,566.8 150.8,569.7 151.0,567.2 151.2,574.0 151.5,567.2 151.8,569.4 152.0,567.1 152.2,569.4 152.5,567.0 152.8,570.4 153.0,566.6 153.2,572.2 153.5,566.9 153.8,575.1 154.0,567.0 154.2,571.1 154.5,567.1 154.8,571.1 155.0,567.0 155.2,571.3 155.5,567.1 155.8,571.5 156.0,567.0 156.2,575.3 156.5,566.5 156.8,574.1 157.0,567.1 157.2,569.5 157.5,566.6 157.8,570.9 158.0,566.3 158.2,569.6 158.5,566.2 158.8,571.0 159.0,566.8 159.2,570.2 159.5,566.8 159.8,570.0 160.0,566.6 160.2,570.4 160.5,566.2 160.8,569.1 161.0,566.2 161.2,570.5 161.5,566.2 161.8,570.8 162.0,566.2 162.2,568.9 162.5,566.4 162.8,571.0 163.0,566.3 163.2,572.4 163.5,565.8 163.8,568.8 164.0,566.0 164.2,570.1 164.5,565.8 164.8,569.2 165.0,566.0 165.2,573.9 165.5,565.6 165.8,571.5 166.0,565.5 166.2,572.7 166.5,565.2 166.8,569.7 167.0,565.3 167.2,572.7 167.5,565.3 167.8,568.6 168.0,565.0 168.2,568.4 168.5,564.9 168.8,569.3 169.0,564.6 169.2,568.4 169.5,564.9 169.8,567.9 170.0,564.5 170.2,569.3 170.5,564.3 170.8,572.4 171.0,564.4 171.2,568.2 171.5,564.2 171.8,571.2 172.0,564.2 172.2,567.2 172.5,563.9 172.8,569.0 173.0,564.3 173.2,568.7 173.5,563.7 173.8,568.8 174.0,563.8 174.2,572.0 174.5,564.3 174.8,567.2 175.0,564.2 175.2,566.5 175.5,563.6 175.8,566.9 176.0,564.2 176.2,568.3 176.5,563.4 176.8,570.2 177.0,564.0 177.2,566.2 177.5,564.0 177.8,566.3 178.0,563.7 178.2,566.5 178.5,563.7 178.8,565.9 179.0,563.2 179.2,566.3 179.5,563.6 179.8,566.0 180.0,563.4 180.2,566.5 180.5,563.7 180.8,566.4 181.0,563.1 181.2,566.1 181.5,563.5 181.8,566.4 182.0,563.5 182.2,570.9 182.5,563.2 182.8,566.2 183.0,563.2 183.2,566.8 183.5,563.2 183.8,567.1 184.0,562.7 184.2,570.4 184.5,563.1 184.8,566.0 185.0,562.4 185.2,569.8 185.5,562.3 185.8,565.5 186.0,562.8 186.2,565.5 186.5,562.3 186.8,565.1 187.0,562.7 187.2,565.9 187.5,562.9 187.8,566.9 188.0,562.7 188.2,570.1 188.5,562.4 188.8,566.5 189.0,562.4 189.2,566.5 189.5,561.9 189.8,565.8 190.0,562.0 190.2,565.9 190.5,561.9 190.8,566.1 191.0,562.3 191.2,566.3 191.5,561.9 191.8,566.9 192.0,562.0 192.2,566.0 192.5,562.0 192.8,566.7 193.0,561.5 193.2,567.2 193.5,561.8 193.8,564.3 194.0,561.7 194.2,570.2 194.5,561.5 194.8,566.2 195.0,561.4 195.2,566.3 195.5,561.4 195.8,566.0 196.0,561.3 196.2,569.7 196.5,561.6 196.8,564.7 197.0,561.2 197.2,564.5 197.5,561.2 197.8,565.2 198.0,561.7 198.2,564.3 198.5,560.8 198.8,564.6 199.0,561.1 199.2,563.8 199.5,561.5 199.8,564.2 200.0,560.8 200.2,564.7 200.5,560.4 200.8,563.3 201.0,560.4 201.2,564.4 201.5,560.8 201.8,569.0 202.0,560.1 202.2,564.0 202.5,560.6 202.8,562.7 203.0,560.1 203.2,563.8 203.5,559.6 203.8,564.1 204.0,560.0 204.2,563.9 204.5,559.9 204.8,563.1 205.0,559.8 205.2,567.8 205.5,559.3 205.8,566.6 206.0,559.0 206.2,561.9 206.5,558.4 206.8,565.3 207.0,558.8 207.2,563.4 207.5,558.4 207.8,565.2 208.0,558.0 208.2,566.4 208.5,557.7 208.8,561.1 209.0,557.3 209.2,560.4 209.5,557.4 209.8,560.0 210.0,557.1 210.2,561.8 210.5,557.0 210.8,561.5 211.0,556.8 211.2,563.7 211.5,556.9 211.8,560.0 212.0,556.6 212.2,559.4 212.5,555.9 212.8,560.2 213.0,556.4 213.2,559.7 213.5,556.5 213.8,562.9 214.0,555.8 214.2,560.9 214.5,556.0 214.8,563.2 215.0,555.7 215.2,558.8 215.5,555.8 215.8,558.4 216.0,555.9 216.2,563.3 216.5,555.9 216.8,559.4 217.0,555.8 217.2,558.5 217.5,555.9 217.8,558.5 218.0,555.6 218.2,558.1 218.5,555.3 218.8,558.6 219.0,555.7 219.2,562.7 219.5,555.9 219.8,560.1 220.0,555.5 220.2,563.8 220.5,555.6 220.8,560.7 221.0,555.4 221.2,561.4 221.5,555.3 221.8,561.6 222.0,555.8 222.2,563.8 222.5,555.7 222.8,558.6 223.0,555.2 223.2,557.9 223.5,555.7 223.8,560.9 224.0,555.6 224.2,563.2 224.5,555.4 224.8,560.8 225.0,555.7 225.2,558.9 225.5,555.6 225.8,563.4 226.0,555.4 226.2,560.6 226.5,555.8 226.8,562.6 227.0,555.7 227.2,560.4 227.5,555.7 227.8,560.4 228.0,556.0 228.2,561.7 228.5,556.2 228.8,558.5 229.0,556.2 229.2,559.9 229.5,556.2 229.8,558.9 230.0,556.0 230.2,561.2 230.5,556.4 230.8,559.3 231.0,556.8 231.2,559.7 231.5,556.6 231.8,564.7 232.0,556.9 232.2,559.8 232.5,557.0 232.8,560.6 233.0,557.2 233.2,560.4 233.5,557.1 233.8,562.4 234.0,557.1 234.2,560.8 234.5,557.2 234.8,564.4 235.0,557.4 235.2,562.3 235.5,557.6 235.8,563.9 236.0,558.5 236.2,566.6 236.5,558.6 236.8,562.2 237.0,558.6 237.2,566.7 237.5,559.2 237.8,562.0 238.0,559.4 238.2,567.6 238.5,559.0 238.8,562.8 239.0,559.7 239.2,567.6 239.5,559.5 239.8,563.9 240.0,559.6 240.2,565.5 240.5,559.6 240.8,567.0 241.0,559.6 241.2,567.9 241.5,560.2 241.8,563.5 242.0,560.0 242.2,568.5 242.5,559.8 242.8,562.5 243.0,560.2 243.2,568.3 243.5,560.3 243.8,564.9 244.0,560.2 244.2,565.1 244.5,560.0 244.8,564.0 245.0,560.2 245.2,563.7 245.5,560.2 245.8,564.9 246.0,560.5 246.2,568.3 246.5,560.6 246.8,562.7 247.0,560.0 247.2,567.2 247.5,559.8 247.8,562.5 248.0,560.4 248.2,566.4 248.5,560.2 248.8,563.5 249.0,560.2 249.2,563.1 249.5,559.8 249.8,564.2 250.0,559.9 250.2,567.1 250.5,559.4 250.8,562.9 251.0,559.3 251.2,562.4 251.5,559.5 251.8,567.1 252.0,559.2 252.2,563.7 252.5,558.8 252.8,567.2 253.0,558.6 253.2,565.1 253.5,559.0 253.8,563.1 254.0,558.5 254.2,565.1 254.5,558.4 254.8,564.2 255.0,558.6 255.2,561.5 255.5,558.4 255.8,560.9 256.0,558.1 256.2,565.8 256.5,558.7 256.8,560.9 257.0,557.9 257.2,566.5 257.5,558.4 257.8,563.2 258.0,558.6 258.2,561.1 258.5,558.3 258.8,561.1 259.0,558.5 259.2,561.4 259.5,558.0 259.8,561.5 260.0,558.1 260.2,562.4 260.5,557.8 260.8,561.1 261.0,557.9 261.2,561.1 261.5,557.5 261.8,563.4 262.0,557.5 262.2,560.6 262.5,557.6 262.8,560.6 263.0,557.5 263.2,561.5 263.5,557.2 263.8,562.4 264.0,557.4 264.2,563.3 264.5,557.5 264.8,560.2 265.0,557.3 265.2,564.7 265.5,557.0 265.8,559.7 266.0,557.2 266.2,561.4 266.5,557.2 266.8,560.6 267.0,557.0 267.2,559.7 267.5,556.5 267.8,561.1 268.0,556.4 268.2,563.6 268.5,557.0 268.8,559.6 269.0,556.5 269.2,560.5 269.5,556.6 269.8,564.5 270.0,556.3 270.2,562.8 270.5,556.5 270.8,558.8 271.0,556.1 271.2,558.8 271.5,555.9 271.8,559.7 272.0,555.6 272.2,558.5 272.5,555.8 272.8,559.6 273.0,555.3 273.2,560.2 273.5,555.2 273.8,563.3 274.0,555.7 274.2,558.0 274.5,555.2 274.8,558.5 275.0,555.3 275.2,560.0 275.5,554.7 275.8,560.8 276.0,555.2 276.2,562.7 276.5,554.9 276.8,559.5 277.0,554.8 277.2,562.9 277.5,554.8 277.8,559.0 278.0,554.8 278.2,556.9 278.5,554.3 278.8,557.7 279.0,554.5 279.2,558.3 279.5,554.4 279.8,560.3 280.0,554.0 280.2,556.9 280.5,554.0 280.8,558.6 281.0,553.6 281.2,557.2 281.5,553.4 281.8,557.3 282.0,553.3 282.2,557.2 282.5,553.5 282.8,558.0 283.0,553.5 283.2,556.7 283.5,553.7 283.8,557.1 284.0,553.7 284.2,559.4 284.5,553.4 284.8,558.8 285.0,553.2 285.2,557.2 285.5,553.5 285.8,559.8 286.0,552.9 286.2,557.8 286.5,553.1 286.8,557.2 287.0,553.0 287.2,561.4 287.5,552.6 287.8,557.0 288.0,553.2 288.2,555.4 288.5,552.4 288.8,558.7 289.0,552.6 289.2,555.8 289.5,553.2 289.8,558.3 290.0,552.6 290.2,558.3 290.5,552.7 290.8,557.5 291.0,553.3 291.2,559.7 291.5,553.4 291.8,557.2 292.0,552.7 292.2,556.8 292.5,553.3 292.8,556.1 293.0,553.5 293.2,558.3 293.5,553.1 293.8,556.6 294.0,553.5 294.2,559.5 294.5,553.0 294.8,560.4 295.0,553.5 295.2,556.4 295.5,553.1 295.8,557.3 296.0,553.8 296.2,557.4 296.5,553.2 296.8,558.1 297.0,553.8 297.2,558.6 297.5,553.9 297.8,559.3 298.0,553.7 298.2,562.0 298.5,554.2 298.8,558.4 299.0,553.9 299.2,557.9 299.5,554.4 299.8,556.9 300.0,554.1 300.2,561.3 300.5,554.3 300.8,557.7 301.0,554.4 301.2,558.1 301.5,554.3 301.8,557.2 302.0,554.7 302.2,560.1 302.5,554.1 302.8,561.2 303.0,554.4 303.2,558.1 303.5,554.5 303.8,557.3 304.0,555.0 304.2,558.8 304.5,554.5 304.8,557.1 305.0,554.4 305.2,561.8 305.5,554.9 305.8,559.2 306.0,555.3 306.2,563.6 306.5,554.7 306.8,559.1 307.0,555.2 307.2,563.0 307.5,555.0 307.8,558.6 308.0,555.6 308.2,558.0 308.5,555.2 308.8,564.0 309.0,555.2 309.2,558.1 309.5,555.9 309.8,558.8 310.0,556.1"/>
<path d="M105.4 28.40h2.6M309.5 28.40h-2.6M105.4 47.95h1.6M309.5 47.95h-1.6M105.4 36.82h1.6M309.5 36.82h-1.6M105.4 31.11h1.6M309.5 31.11h-1.6M105.4 56.38h2.6M309.5 56.38h-2.6M105.4 75.93h1.6M309.5 75.93h-1.6M105.4 64.80h1.6M309.5 64.80h-1.6M105.4 59.09h1.6M309.5 59.09h-1.6M105.4 84.35h2.6M309.5 84.35h-2.6M105.4 103.90h1.6M309.5 103.90h-1.6M105.4 92.77h1.6M309.5 92.77h-1.6M105.4 87.06h1.6M309.5 87.06h-1.6M105.4 112.32h2.6M309.5 112.32h-2.6M105.4 131.88h1.6M309.5 131.88h-1.6M105.4 120.75h1.6M309.5 120.75h-1.6M105.4 115.04h1.6M309.5 115.04h-1.6M105.4 140.30h2.6M309.5 140.30h-2.6M105.4 159.85h1.6M309.5 159.85h-1.6M105.4 148.72h1.6M309.5 148.72h-1.6M105.4 143.01h1.6M309.5 143.01h-1.6M105.4 168.28h2.6M309.5 168.28h-2.6M105.4 187.83h1.6M309.5 187.83h-1.6M105.4 176.70h1.6M309.5 176.70h-1.6M105.4 170.99h1.6M309.5 170.99h-1.6M105.4 196.25h2.6M309.5 196.25h-2.6M105.40 196.2v-2.6M105.40 28.4v2.6M156.43 196.2v-2.6M156.43 28.4v2.6M207.45 196.2v-2.6M207.45 28.4v2.6M258.48 196.2v-2.6M258.48 28.4v2.6M309.50 196.2v-2.6M309.50 28.4v2.6" stroke="#5a5a5a" stroke-width="0.9" fill="none"/>
<rect x="105.4" y="28.4" width="204.1" height="167.8" fill="none" stroke="#5a5a5a" stroke-width="1.05"/>
<g font-family="Liberation Sans, sans-serif" font-size="12.1" letter-spacing="0.12" fill="#111" stroke="#111" stroke-width="0.1"><text x="97.8" y="33.1" text-anchor="end">100</text><text x="97.8" y="61.1" text-anchor="end">10</text><text x="97.8" y="89.0" text-anchor="end">1</text><text x="97.8" y="117.0" text-anchor="end">0.1</text><text x="97.8" y="145.0" text-anchor="end">0.01</text><text x="97.8" y="173.0" text-anchor="end">0.001</text><text x="97.8" y="200.9" text-anchor="end">0.0001</text><text x="106.7" y="213.2" text-anchor="middle">0</text><text x="157.7" y="213.2" text-anchor="middle">5</text><text x="208.8" y="213.2" text-anchor="middle">10</text><text x="259.8" y="213.2" text-anchor="middle">15</text><text x="310.8" y="213.2" text-anchor="middle">20</text></g>
<text transform="translate(63.0,112.3) rotate(-90)" font-family="Liberation Sans, sans-serif" font-size="12.4" fill="#111" stroke="#111" stroke-width="0.12" text-anchor="middle">J/J<tspan font-size="9.6" dy="3.4">eqp</tspan></text>
<path d="M105.4 236.40h2.6M309.5 236.40h-2.6M105.4 255.97h1.6M309.5 255.97h-1.6M105.4 244.83h1.6M309.5 244.83h-1.6M105.4 239.11h1.6M309.5 239.11h-1.6M105.4 264.39h2.6M309.5 264.39h-2.6M105.4 283.96h1.6M309.5 283.96h-1.6M105.4 272.82h1.6M309.5 272.82h-1.6M105.4 267.10h1.6M309.5 267.10h-1.6M105.4 292.38h2.6M309.5 292.38h-2.6M105.4 311.95h1.6M309.5 311.95h-1.6M105.4 300.81h1.6M309.5 300.81h-1.6M105.4 295.10h1.6M309.5 295.10h-1.6M105.4 320.38h2.6M309.5 320.38h-2.6M105.4 339.94h1.6M309.5 339.94h-1.6M105.4 328.80h1.6M309.5 328.80h-1.6M105.4 323.09h1.6M309.5 323.09h-1.6M105.4 348.37h2.6M309.5 348.37h-2.6M105.4 367.93h1.6M309.5 367.93h-1.6M105.4 356.79h1.6M309.5 356.79h-1.6M105.4 351.08h1.6M309.5 351.08h-1.6M105.4 376.36h2.6M309.5 376.36h-2.6M105.4 395.92h1.6M309.5 395.92h-1.6M105.4 384.78h1.6M309.5 384.78h-1.6M105.4 379.07h1.6M309.5 379.07h-1.6M105.4 404.35h2.6M309.5 404.35h-2.6M105.40 404.4v-2.6M105.40 236.4v2.6M156.43 404.4v-2.6M156.43 236.4v2.6M207.45 404.4v-2.6M207.45 236.4v2.6M258.48 404.4v-2.6M258.48 236.4v2.6M309.50 404.4v-2.6M309.50 236.4v2.6" stroke="#5a5a5a" stroke-width="0.9" fill="none"/>
<rect x="105.4" y="236.4" width="204.1" height="168.0" fill="none" stroke="#5a5a5a" stroke-width="1.05"/>
<g font-family="Liberation Sans, sans-serif" font-size="12.1" letter-spacing="0.12" fill="#111" stroke="#111" stroke-width="0.1"><text x="97.8" y="241.1" text-anchor="end">100</text><text x="97.8" y="269.1" text-anchor="end">10</text><text x="97.8" y="297.1" text-anchor="end">1</text><text x="97.8" y="325.1" text-anchor="end">0.1</text><text x="97.8" y="353.1" text-anchor="end">0.01</text><text x="97.8" y="381.1" text-anchor="end">0.001</text><text x="97.8" y="409.1" text-anchor="end">0.0001</text><text x="106.7" y="421.2" text-anchor="middle">0</text><text x="157.7" y="421.2" text-anchor="middle">5</text><text x="208.8" y="421.2" text-anchor="middle">10</text><text x="259.8" y="421.2" text-anchor="middle">15</text><text x="310.8" y="421.2" text-anchor="middle">20</text></g>
<text transform="translate(63.0,320.4) rotate(-90)" font-family="Liberation Sans, sans-serif" font-size="12.4" fill="#111" stroke="#111" stroke-width="0.12" text-anchor="middle">J/J<tspan font-size="9.6" dy="3.4">eqp</tspan></text>
<path d="M105.4 443.80h2.6M309.5 443.80h-2.6M105.4 461.68h1.6M309.5 461.68h-1.6M105.4 451.50h1.6M309.5 451.50h-1.6M105.4 446.28h1.6M309.5 446.28h-1.6M105.4 469.38h2.6M309.5 469.38h-2.6M105.4 487.25h1.6M309.5 487.25h-1.6M105.4 477.07h1.6M309.5 477.07h-1.6M105.4 471.85h1.6M309.5 471.85h-1.6M105.4 494.95h2.6M309.5 494.95h-2.6M105.4 512.83h1.6M309.5 512.83h-1.6M105.4 502.65h1.6M309.5 502.65h-1.6M105.4 497.43h1.6M309.5 497.43h-1.6M105.4 520.52h2.6M309.5 520.52h-2.6M105.4 538.40h1.6M309.5 538.40h-1.6M105.4 528.22h1.6M309.5 528.22h-1.6M105.4 523.00h1.6M309.5 523.00h-1.6M105.4 546.10h2.6M309.5 546.10h-2.6M105.4 563.98h1.6M309.5 563.98h-1.6M105.4 553.80h1.6M309.5 553.80h-1.6M105.4 548.58h1.6M309.5 548.58h-1.6M105.4 571.67h2.6M309.5 571.67h-2.6M105.4 589.55h1.6M309.5 589.55h-1.6M105.4 579.37h1.6M309.5 579.37h-1.6M105.4 574.15h1.6M309.5 574.15h-1.6M105.4 597.25h2.6M309.5 597.25h-2.6M105.40 597.2v-2.6M105.40 443.8v2.6M156.43 597.2v-2.6M156.43 443.8v2.6M207.45 597.2v-2.6M207.45 443.8v2.6M258.48 597.2v-2.6M258.48 443.8v2.6M309.50 597.2v-2.6M309.50 443.8v2.6" stroke="#5a5a5a" stroke-width="0.9" fill="none"/>
<rect x="105.4" y="443.8" width="204.1" height="153.4" fill="none" stroke="#5a5a5a" stroke-width="1.05"/>
<g font-family="Liberation Sans, sans-serif" font-size="12.1" letter-spacing="0.12" fill="#111" stroke="#111" stroke-width="0.1"><text x="97.8" y="448.5" text-anchor="end">100</text><text x="97.8" y="474.1" text-anchor="end">10</text><text x="97.8" y="499.6" text-anchor="end">1</text><text x="97.8" y="525.2" text-anchor="end">0.1</text><text x="97.8" y="550.8" text-anchor="end">0.01</text><text x="97.8" y="576.4" text-anchor="end">0.001</text><text x="97.8" y="602.0" text-anchor="end">0.0001</text><text x="106.7" y="614.1" text-anchor="middle">0</text><text x="157.7" y="614.1" text-anchor="middle">5</text><text x="208.8" y="614.1" text-anchor="middle">10</text><text x="259.8" y="614.1" text-anchor="middle">15</text><text x="310.8" y="614.1" text-anchor="middle">20</text></g>
<text transform="translate(63.0,520.5) rotate(-90)" font-family="Liberation Sans, sans-serif" font-size="12.4" fill="#111" stroke="#111" stroke-width="0.12" text-anchor="middle">J/J<tspan font-size="9.6" dy="3.4">eqp</tspan></text>
<path d="M387.5 28.40h2.6M591.3 28.40h-2.6M387.5 47.95h1.6M591.3 47.95h-1.6M387.5 36.82h1.6M591.3 36.82h-1.6M387.5 31.11h1.6M591.3 31.11h-1.6M387.5 56.38h2.6M591.3 56.38h-2.6M387.5 75.93h1.6M591.3 75.93h-1.6M387.5 64.80h1.6M591.3 64.80h-1.6M387.5 59.09h1.6M591.3 59.09h-1.6M387.5 84.35h2.6M591.3 84.35h-2.6M387.5 103.90h1.6M591.3 103.90h-1.6M387.5 92.77h1.6M591.3 92.77h-1.6M387.5 87.06h1.6M591.3 87.06h-1.6M387.5 112.32h2.6M591.3 112.32h-2.6M387.5 131.88h1.6M591.3 131.88h-1.6M387.5 120.75h1.6M591.3 120.75h-1.6M387.5 115.04h1.6M591.3 115.04h-1.6M387.5 140.30h2.6M591.3 140.30h-2.6M387.5 159.85h1.6M591.3 159.85h-1.6M387.5 148.72h1.6M591.3 148.72h-1.6M387.5 143.01h1.6M591.3 143.01h-1.6M387.5 168.28h2.6M591.3 168.28h-2.6M387.5 187.83h1.6M591.3 187.83h-1.6M387.5 176.70h1.6M591.3 176.70h-1.6M387.5 170.99h1.6M591.3 170.99h-1.6M387.5 196.25h2.6M591.3 196.25h-2.6M387.50 196.2v-2.6M387.50 28.4v2.6M438.45 196.2v-2.6M438.45 28.4v2.6M489.40 196.2v-2.6M489.40 28.4v2.6M540.35 196.2v-2.6M540.35 28.4v2.6M591.30 196.2v-2.6M591.30 28.4v2.6" stroke="#5a5a5a" stroke-width="0.9" fill="none"/>
<rect x="387.5" y="28.4" width="203.8" height="167.8" fill="none" stroke="#5a5a5a" stroke-width="1.05"/>
<g font-family="Liberation Sans, sans-serif" font-size="12.1" letter-spacing="0.12" fill="#111" stroke="#111" stroke-width="0.1"><text x="379.9" y="33.1" text-anchor="end">100</text><text x="379.9" y="61.1" text-anchor="end">10</text><text x="379.9" y="89.0" text-anchor="end">1</text><text x="379.9" y="117.0" text-anchor="end">0.1</text><text x="379.9" y="145.0" text-anchor="end">0.01</text><text x="379.9" y="173.0" text-anchor="end">0.001</text><text x="379.9" y="200.9" text-anchor="end">0.0001</text><text x="388.8" y="213.2" text-anchor="middle">0</text><text x="439.8" y="213.2" text-anchor="middle">5</text><text x="490.7" y="213.2" text-anchor="middle">10</text><text x="541.6" y="213.2" text-anchor="middle">15</text><text x="592.6" y="213.2" text-anchor="middle">20</text></g>
<path d="M387.5 236.40h2.6M591.3 236.40h-2.6M387.5 255.97h1.6M591.3 255.97h-1.6M387.5 244.83h1.6M591.3 244.83h-1.6M387.5 239.11h1.6M591.3 239.11h-1.6M387.5 264.39h2.6M591.3 264.39h-2.6M387.5 283.96h1.6M591.3 283.96h-1.6M387.5 272.82h1.6M591.3 272.82h-1.6M387.5 267.10h1.6M591.3 267.10h-1.6M387.5 292.38h2.6M591.3 292.38h-2.6M387.5 311.95h1.6M591.3 311.95h-1.6M387.5 300.81h1.6M591.3 300.81h-1.6M387.5 295.10h1.6M591.3 295.10h-1.6M387.5 320.38h2.6M591.3 320.38h-2.6M387.5 339.94h1.6M591.3 339.94h-1.6M387.5 328.80h1.6M591.3 328.80h-1.6M387.5 323.09h1.6M591.3 323.09h-1.6M387.5 348.37h2.6M591.3 348.37h-2.6M387.5 367.93h1.6M591.3 367.93h-1.6M387.5 356.79h1.6M591.3 356.79h-1.6M387.5 351.08h1.6M591.3 351.08h-1.6M387.5 376.36h2.6M591.3 376.36h-2.6M387.5 395.92h1.6M591.3 395.92h-1.6M387.5 384.78h1.6M591.3 384.78h-1.6M387.5 379.07h1.6M591.3 379.07h-1.6M387.5 404.35h2.6M591.3 404.35h-2.6M387.50 404.4v-2.6M387.50 236.4v2.6M438.45 404.4v-2.6M438.45 236.4v2.6M489.40 404.4v-2.6M489.40 236.4v2.6M540.35 404.4v-2.6M540.35 236.4v2.6M591.30 404.4v-2.6M591.30 236.4v2.6" stroke="#5a5a5a" stroke-width="0.9" fill="none"/>
<rect x="387.5" y="236.4" width="203.8" height="168.0" fill="none" stroke="#5a5a5a" stroke-width="1.05"/>
<g font-family="Liberation Sans, sans-serif" font-size="12.1" letter-spacing="0.12" fill="#111" stroke="#111" stroke-width="0.1"><text x="379.9" y="241.1" text-anchor="end">100</text><text x="379.9" y="269.1" text-anchor="end">10</text><text x="379.9" y="297.1" text-anchor="end">1</text><text x="379.9" y="325.1" text-anchor="end">0.1</text><text x="379.9" y="353.1" text-anchor="end">0.01</text><text x="379.9" y="381.1" text-anchor="end">0.001</text><text x="379.9" y="409.1" text-anchor="end">0.0001</text><text x="388.8" y="421.2" text-anchor="middle">0</text><text x="439.8" y="421.2" text-anchor="middle">5</text><text x="490.7" y="421.2" text-anchor="middle">10</text><text x="541.6" y="421.2" text-anchor="middle">15</text><text x="592.6" y="421.2" text-anchor="middle">20</text></g>
<path d="M387.5 443.80h2.6M591.3 443.80h-2.6M387.5 461.68h1.6M591.3 461.68h-1.6M387.5 451.50h1.6M591.3 451.50h-1.6M387.5 446.28h1.6M591.3 446.28h-1.6M387.5 469.38h2.6M591.3 469.38h-2.6M387.5 487.25h1.6M591.3 487.25h-1.6M387.5 477.07h1.6M591.3 477.07h-1.6M387.5 471.85h1.6M591.3 471.85h-1.6M387.5 494.95h2.6M591.3 494.95h-2.6M387.5 512.83h1.6M591.3 512.83h-1.6M387.5 502.65h1.6M591.3 502.65h-1.6M387.5 497.43h1.6M591.3 497.43h-1.6M387.5 520.52h2.6M591.3 520.52h-2.6M387.5 538.40h1.6M591.3 538.40h-1.6M387.5 528.22h1.6M591.3 528.22h-1.6M387.5 523.00h1.6M591.3 523.00h-1.6M387.5 546.10h2.6M591.3 546.10h-2.6M387.5 563.98h1.6M591.3 563.98h-1.6M387.5 553.80h1.6M591.3 553.80h-1.6M387.5 548.58h1.6M591.3 548.58h-1.6M387.5 571.67h2.6M591.3 571.67h-2.6M387.5 589.55h1.6M591.3 589.55h-1.6M387.5 579.37h1.6M591.3 579.37h-1.6M387.5 574.15h1.6M591.3 574.15h-1.6M387.5 597.25h2.6M591.3 597.25h-2.6M387.50 597.2v-2.6M387.50 443.8v2.6M438.45 597.2v-2.6M438.45 443.8v2.6M489.40 597.2v-2.6M489.40 443.8v2.6M540.35 597.2v-2.6M540.35 443.8v2.6M591.30 597.2v-2.6M591.30 443.8v2.6" stroke="#5a5a5a" stroke-width="0.9" fill="none"/>
<rect x="387.5" y="443.8" width="203.8" height="153.4" fill="none" stroke="#5a5a5a" stroke-width="1.05"/>
<g font-family="Liberation Sans, sans-serif" font-size="12.1" letter-spacing="0.12" fill="#111" stroke="#111" stroke-width="0.1"><text x="379.9" y="448.5" text-anchor="end">100</text><text x="379.9" y="474.1" text-anchor="end">10</text><text x="379.9" y="499.6" text-anchor="end">1</text><text x="379.9" y="525.2" text-anchor="end">0.1</text><text x="379.9" y="550.8" text-anchor="end">0.01</text><text x="379.9" y="576.4" text-anchor="end">0.001</text><text x="379.9" y="602.0" text-anchor="end">0.0001</text><text x="388.8" y="614.1" text-anchor="middle">0</text><text x="439.8" y="614.1" text-anchor="middle">5</text><text x="490.7" y="614.1" text-anchor="middle">10</text><text x="541.6" y="614.1" text-anchor="middle">15</text><text x="592.6" y="614.1" text-anchor="middle">20</text></g>
<rect x="235.5" y="156.5" width="66.5" height="38.7" fill="#fff"/>
<g font-family="Liberation Sans, sans-serif" font-size="11.6" fill="#111" stroke="#111" stroke-width="0.3" text-anchor="end"><text x="254.8" y="167.0">fid</text><text x="254.8" y="179.4">p4</text><text x="254.8" y="191.8">p2</text></g>
<line x1="262" y1="163" x2="294.8" y2="163" stroke="#e01818" stroke-opacity="0.78" stroke-width="1.05"/>
<line x1="262" y1="175.4" x2="294.8" y2="175.4" stroke="#10b010" stroke-opacity="0.5" stroke-width="1.0"/>
<line x1="262" y1="187.7" x2="294.8" y2="187.7" stroke="#1515c8" stroke-opacity="0.9" stroke-width="1.0" stroke-dasharray="2 0.8"/>
<g font-family="Liberation Serif, serif" font-size="17" fill="#2a2a2a"><text x="120.20" y="15.3" textLength="45.57" lengthAdjust="spacingAndGlyphs">restart</text><text x="172.80" y="15.3" textLength="32.64" lengthAdjust="spacingAndGlyphs">from</text><text x="211.70" y="15.3" textLength="4.63" lengthAdjust="spacingAndGlyphs" font-style="italic">t</text><text x="221.70" y="15.3" textLength="12.68" lengthAdjust="spacingAndGlyphs">=</text><text x="237.20" y="15.3" textLength="8.50" lengthAdjust="spacingAndGlyphs">0</text><text x="382.70" y="15.3" textLength="45.57" lengthAdjust="spacingAndGlyphs">restart</text><text x="436.30" y="15.3" textLength="31.44" lengthAdjust="spacingAndGlyphs">from</text><text x="474.30" y="15.3" textLength="4.35" lengthAdjust="spacingAndGlyphs" font-style="italic">t</text><text x="485.00" y="15.3" textLength="11.29" lengthAdjust="spacingAndGlyphs">=</text><text x="503.00" y="15.3" textLength="13.50" lengthAdjust="spacingAndGlyphs">16</text><text x="517.50" y="15.3" textLength="7.57" lengthAdjust="spacingAndGlyphs" font-style="italic">π</text><text x="527.00" y="15.3" textLength="6.40" lengthAdjust="spacingAndGlyphs">/</text><text x="536.50" y="15.3" textLength="10.53" lengthAdjust="spacingAndGlyphs">Ω</text></g>
<g font-family="Liberation Sans, sans-serif" font-size="11.6" fill="#111" stroke="#111" stroke-width="0.3" text-anchor="middle"><text x="207.4" y="632.6">Ωt/2π</text><text x="489.5" y="632.6">Ωt/2π</text></g>
<g font-family="Liberation Serif, serif" font-size="12.5" fill="#444"><text x="0.5" y="40.3">(a)</text><text x="0.5" y="248.4">(b)</text><text x="0.5" y="457.3">(c)</text></g>
<circle cx="8.1" cy="58" r="7.1" fill="none" stroke="#444" stroke-width="1.1"/>
<path d="M7.4 259.2 L13.3 269.2 L1.3 269.2 Z" fill="none" stroke="#333" stroke-width="1.0" stroke-linejoin="miter"/>
<path d="M2.2 471.1 L10.2 478.8 M10.2 471.1 L2.2 478.8" fill="none" stroke="#333" stroke-width="0.9"/>
</svg>
</body></html>
